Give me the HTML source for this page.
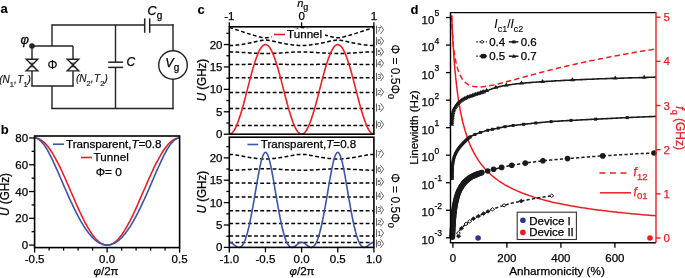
<!DOCTYPE html>
<html><head><meta charset="utf-8"><style>
html,body{margin:0;padding:0;background:#fff;width:685px;height:278px;overflow:hidden}
svg{display:block;will-change:transform}
text{font-family:"Liberation Sans",sans-serif}
</style></head><body>
<svg width="685" height="278" viewBox="0 0 685 278">
<rect width="685" height="278" fill="#fff"/>
<text x="0.40" y="13.30" font-size="13" text-anchor="start" fill="#000" font-weight="bold" stroke="#000" stroke-width="0.1" >a</text>
<line x1="52.00" y1="25.00" x2="144.70" y2="25.00" stroke="#222" stroke-width="1.4" />
<line x1="149.70" y1="25.00" x2="173.70" y2="25.00" stroke="#222" stroke-width="1.4" />
<line x1="52.00" y1="24.30" x2="52.00" y2="46.00" stroke="#222" stroke-width="1.4" />
<line x1="32.00" y1="46.00" x2="73.00" y2="46.00" stroke="#222" stroke-width="1.4" />
<line x1="32.00" y1="46.00" x2="32.00" y2="59.20" stroke="#222" stroke-width="1.4" />
<line x1="32.00" y1="70.90" x2="32.00" y2="86.00" stroke="#222" stroke-width="1.4" />
<line x1="73.00" y1="46.00" x2="73.00" y2="59.20" stroke="#222" stroke-width="1.4" />
<line x1="73.00" y1="70.90" x2="73.00" y2="86.00" stroke="#222" stroke-width="1.4" />
<line x1="31.30" y1="86.00" x2="73.70" y2="86.00" stroke="#222" stroke-width="1.4" />
<line x1="52.00" y1="86.00" x2="52.00" y2="108.50" stroke="#222" stroke-width="1.4" />
<line x1="51.30" y1="108.50" x2="173.70" y2="108.50" stroke="#222" stroke-width="1.4" />
<line x1="115.50" y1="25.00" x2="115.50" y2="62.20" stroke="#222" stroke-width="1.4" />
<line x1="115.50" y1="67.40" x2="115.50" y2="108.50" stroke="#222" stroke-width="1.4" />
<line x1="173.00" y1="24.30" x2="173.00" y2="50.70" stroke="#222" stroke-width="1.4" />
<line x1="173.00" y1="79.30" x2="173.00" y2="109.20" stroke="#222" stroke-width="1.4" />
<line x1="108.20" y1="62.20" x2="123.10" y2="62.20" stroke="#222" stroke-width="1.5" />
<line x1="108.20" y1="67.40" x2="123.10" y2="67.40" stroke="#222" stroke-width="1.5" />
<line x1="144.70" y1="18.40" x2="144.70" y2="32.80" stroke="#222" stroke-width="1.5" />
<line x1="149.70" y1="18.40" x2="149.70" y2="32.80" stroke="#222" stroke-width="1.5" />
<circle cx="173" cy="65" r="14.3" fill="none" stroke="#222" stroke-width="1.4"/>
<path d="M26.2,59.2 L37.8,59.2 L32.0,65 Z M26.2,70.9 L37.8,70.9 L32.0,65 Z" fill="none" stroke="#222" stroke-width="1.4" stroke-linejoin="miter"/>
<line x1="29.70" y1="63.20" x2="34.30" y2="63.20" stroke="#222" stroke-width="1" />
<line x1="29.70" y1="66.80" x2="34.30" y2="66.80" stroke="#222" stroke-width="1" />
<path d="M67.2,59.2 L78.8,59.2 L73.0,65 Z M67.2,70.9 L78.8,70.9 L73.0,65 Z" fill="none" stroke="#222" stroke-width="1.4" stroke-linejoin="miter"/>
<line x1="70.70" y1="63.20" x2="75.30" y2="63.20" stroke="#222" stroke-width="1" />
<line x1="70.70" y1="66.80" x2="75.30" y2="66.80" stroke="#222" stroke-width="1" />
<circle cx="32" cy="46" r="2.8" fill="#222"/>
<text x="20.40" y="44.30" font-size="13" text-anchor="start" fill="#000" font-style="italic" stroke="#000" stroke-width="0.3" >φ</text>
<text x="52.60" y="69.20" font-size="12.5" text-anchor="middle" fill="#000" stroke="#000" stroke-width="0.1" >Φ</text>
<text x="-0.8" y="82.7" font-size="10" font-style="italic" fill="#111" stroke="#111" stroke-width="0.15">(N<tspan font-size="7.5" font-style="normal" dy="4.2">1</tspan><tspan dy="-4.2">,</tspan><tspan dx="0.6">T</tspan><tspan font-size="7.5" font-style="normal" dy="4.2">1</tspan><tspan dy="-4.2">)</tspan></text>
<text x="76.0" y="81.7" font-size="10" font-style="italic" fill="#111" stroke="#111" stroke-width="0.15">(N<tspan font-size="7.5" font-style="normal" dy="4.2">2</tspan><tspan dy="-4.2">,</tspan><tspan dx="0.6">T</tspan><tspan font-size="7.5" font-style="normal" dy="4.2">2</tspan><tspan dy="-4.2">)</tspan></text>
<text x="126.60" y="65.50" font-size="12" text-anchor="start" fill="#000" font-style="italic" stroke="#000" stroke-width="0.25" >C</text>
<text x="147.6" y="15.3" font-size="12.5" font-style="italic" fill="#000" stroke="#000" stroke-width="0.25">C<tspan font-size="10" font-style="normal" dy="4">g</tspan></text>
<text x="165.3" y="67" font-size="12.5" font-style="italic" fill="#000" stroke="#000" stroke-width="0.25">V<tspan font-size="10" font-style="normal" dy="4">g</tspan></text>
<text x="0.80" y="134.00" font-size="13" text-anchor="start" fill="#000" font-weight="bold" stroke="#000" stroke-width="0.1" >b</text>
<path d="M34.6,138.0 35.5,138.0 36.4,138.1 37.3,138.4 38.2,138.6 39.1,139.0 40.0,139.5 40.9,140.0 41.8,140.6 42.8,141.3 43.7,142.1 44.6,142.9 45.5,143.8 46.4,144.8 47.3,145.9 48.2,147.0 49.1,148.2 50.0,149.5 50.9,150.8 51.8,152.2 52.7,153.7 53.6,155.2 54.5,156.8 55.4,158.4 56.3,160.1 57.3,161.8 58.2,163.6 59.1,165.4 60.0,167.2 60.9,169.1 61.8,171.0 62.7,173.0 63.6,175.0 64.5,177.0 65.4,179.0 66.3,181.1 67.2,183.2 68.1,185.2 69.0,187.3 69.9,189.4 70.8,191.5 71.8,193.6 72.7,195.7 73.6,197.8 74.5,199.9 75.4,202.0 76.3,204.0 77.2,206.1 78.1,208.1 79.0,210.1 79.9,212.0 80.8,214.0 81.7,215.9 82.6,217.7 83.5,219.5 84.4,221.3 85.3,223.0 86.3,224.7 87.2,226.3 88.1,227.9 89.0,229.4 89.9,230.9 90.8,232.3 91.7,233.6 92.6,234.9 93.5,236.1 94.4,237.2 95.3,238.3 96.2,239.3 97.1,240.2 98.0,241.0 98.9,241.8 99.8,242.5 100.8,243.1 101.7,243.6 102.6,244.1 103.5,244.4 104.4,244.7 105.3,244.9 106.2,245.1 107.1,245.1 108.0,245.1 108.9,244.9 109.8,244.7 110.7,244.4 111.6,244.1 112.5,243.6 113.4,243.1 114.3,242.5 115.3,241.8 116.2,241.0 117.1,240.2 118.0,239.3 118.9,238.3 119.8,237.2 120.7,236.1 121.6,234.9 122.5,233.6 123.4,232.3 124.3,230.9 125.2,229.4 126.1,227.9 127.0,226.3 127.9,224.7 128.8,223.0 129.8,221.3 130.7,219.5 131.6,217.7 132.5,215.9 133.4,214.0 134.3,212.0 135.2,210.1 136.1,208.1 137.0,206.1 137.9,204.0 138.8,202.0 139.7,199.9 140.6,197.8 141.5,195.7 142.4,193.6 143.3,191.5 144.3,189.4 145.2,187.3 146.1,185.2 147.0,183.2 147.9,181.1 148.8,179.0 149.7,177.0 150.6,175.0 151.5,173.0 152.4,171.0 153.3,169.1 154.2,167.2 155.1,165.4 156.0,163.6 156.9,161.8 157.9,160.1 158.8,158.4 159.7,156.8 160.6,155.2 161.5,153.7 162.4,152.2 163.3,150.8 164.2,149.5 165.1,148.2 166.0,147.0 166.9,145.9 167.8,144.8 168.7,143.8 169.6,142.9 170.5,142.1 171.4,141.3 172.4,140.6 173.3,140.0 174.2,139.5 175.1,139.0 176.0,138.6 176.9,138.4 177.8,138.1 178.7,138.0 179.6,138.0" fill="none" stroke="#ec1c24" stroke-width="1.6" />
<path d="M34.6,138.0 35.5,138.0 36.4,138.2 37.3,138.6 38.2,139.0 39.1,139.6 40.0,140.3 40.9,141.2 41.8,142.1 42.8,143.2 43.7,144.3 44.6,145.6 45.5,147.0 46.4,148.4 47.3,149.9 48.2,151.5 49.1,153.2 50.0,154.9 50.9,156.7 51.8,158.6 52.7,160.4 53.6,162.4 54.5,164.3 55.4,166.3 56.3,168.4 57.3,170.4 58.2,172.5 59.1,174.6 60.0,176.7 60.9,178.8 61.8,180.9 62.7,183.0 63.6,185.1 64.5,187.2 65.4,189.2 66.3,191.3 67.2,193.4 68.1,195.4 69.0,197.4 69.9,199.4 70.8,201.4 71.8,203.4 72.7,205.3 73.6,207.2 74.5,209.1 75.4,210.9 76.3,212.7 77.2,214.4 78.1,216.2 79.0,217.8 79.9,219.5 80.8,221.1 81.7,222.6 82.6,224.1 83.5,225.6 84.4,227.0 85.3,228.4 86.3,229.7 87.2,231.0 88.1,232.2 89.0,233.4 89.9,234.5 90.8,235.6 91.7,236.6 92.6,237.6 93.5,238.5 94.4,239.3 95.3,240.1 96.2,240.8 97.1,241.5 98.0,242.1 98.9,242.7 99.8,243.2 100.8,243.6 101.7,244.0 102.6,244.4 103.5,244.6 104.4,244.8 105.3,245.0 106.2,245.1 107.1,245.1 108.0,245.1 108.9,245.0 109.8,244.8 110.7,244.6 111.6,244.4 112.5,244.0 113.4,243.6 114.3,243.2 115.3,242.7 116.2,242.1 117.1,241.5 118.0,240.8 118.9,240.1 119.8,239.3 120.7,238.5 121.6,237.6 122.5,236.6 123.4,235.6 124.3,234.5 125.2,233.4 126.1,232.2 127.0,231.0 127.9,229.7 128.8,228.4 129.8,227.0 130.7,225.6 131.6,224.1 132.5,222.6 133.4,221.1 134.3,219.5 135.2,217.8 136.1,216.2 137.0,214.4 137.9,212.7 138.8,210.9 139.7,209.1 140.6,207.2 141.5,205.3 142.4,203.4 143.3,201.4 144.3,199.4 145.2,197.4 146.1,195.4 147.0,193.4 147.9,191.3 148.8,189.2 149.7,187.2 150.6,185.1 151.5,183.0 152.4,180.9 153.3,178.8 154.2,176.7 155.1,174.6 156.0,172.5 156.9,170.4 157.9,168.4 158.8,166.3 159.7,164.3 160.6,162.4 161.5,160.4 162.4,158.6 163.3,156.7 164.2,154.9 165.1,153.2 166.0,151.5 166.9,149.9 167.8,148.4 168.7,147.0 169.6,145.6 170.5,144.3 171.4,143.2 172.4,142.1 173.3,141.2 174.2,140.3 175.1,139.6 176.0,139.0 176.9,138.6 177.8,138.2 178.7,138.0 179.6,138.0" fill="none" stroke="#3b55a5" stroke-width="1.6" />
<rect x="34.60" y="136.00" width="145.00" height="111.60" fill="none" stroke="#000" stroke-width="1.6"/>
<line x1="29.10" y1="245.10" x2="34.60" y2="245.10" stroke="#000" stroke-width="1.3" />
<text x="28.10" y="249.10" font-size="11.5" text-anchor="end" fill="#000" stroke="#000" stroke-width="0.25" >0</text>
<line x1="31.60" y1="231.71" x2="34.60" y2="231.71" stroke="#000" stroke-width="1.3" />
<line x1="29.10" y1="218.32" x2="34.60" y2="218.32" stroke="#000" stroke-width="1.3" />
<text x="28.10" y="222.32" font-size="11.5" text-anchor="end" fill="#000" stroke="#000" stroke-width="0.25" >20</text>
<line x1="31.60" y1="204.93" x2="34.60" y2="204.93" stroke="#000" stroke-width="1.3" />
<line x1="29.10" y1="191.54" x2="34.60" y2="191.54" stroke="#000" stroke-width="1.3" />
<text x="28.10" y="195.54" font-size="11.5" text-anchor="end" fill="#000" stroke="#000" stroke-width="0.25" >40</text>
<line x1="31.60" y1="178.15" x2="34.60" y2="178.15" stroke="#000" stroke-width="1.3" />
<line x1="29.10" y1="164.76" x2="34.60" y2="164.76" stroke="#000" stroke-width="1.3" />
<text x="28.10" y="168.76" font-size="11.5" text-anchor="end" fill="#000" stroke="#000" stroke-width="0.25" >60</text>
<line x1="31.60" y1="151.37" x2="34.60" y2="151.37" stroke="#000" stroke-width="1.3" />
<line x1="29.10" y1="137.98" x2="34.60" y2="137.98" stroke="#000" stroke-width="1.3" />
<text x="28.10" y="141.98" font-size="11.5" text-anchor="end" fill="#000" stroke="#000" stroke-width="0.25" >80</text>
<line x1="34.60" y1="247.60" x2="34.60" y2="252.60" stroke="#000" stroke-width="1.3" />
<line x1="49.10" y1="247.60" x2="49.10" y2="250.60" stroke="#000" stroke-width="1.3" />
<line x1="63.60" y1="247.60" x2="63.60" y2="250.60" stroke="#000" stroke-width="1.3" />
<line x1="78.10" y1="247.60" x2="78.10" y2="250.60" stroke="#000" stroke-width="1.3" />
<line x1="92.60" y1="247.60" x2="92.60" y2="250.60" stroke="#000" stroke-width="1.3" />
<line x1="107.10" y1="247.60" x2="107.10" y2="252.60" stroke="#000" stroke-width="1.3" />
<line x1="121.60" y1="247.60" x2="121.60" y2="250.60" stroke="#000" stroke-width="1.3" />
<line x1="136.10" y1="247.60" x2="136.10" y2="250.60" stroke="#000" stroke-width="1.3" />
<line x1="150.60" y1="247.60" x2="150.60" y2="250.60" stroke="#000" stroke-width="1.3" />
<line x1="165.10" y1="247.60" x2="165.10" y2="250.60" stroke="#000" stroke-width="1.3" />
<line x1="179.60" y1="247.60" x2="179.60" y2="252.60" stroke="#000" stroke-width="1.3" />
<text x="34.60" y="262.80" font-size="11.5" text-anchor="middle" fill="#000" stroke="#000" stroke-width="0.25" >-0.5</text>
<text x="107.10" y="262.80" font-size="11.5" text-anchor="middle" fill="#000" stroke="#000" stroke-width="0.25" >0.0</text>
<text x="179.60" y="262.80" font-size="11.5" text-anchor="middle" fill="#000" stroke="#000" stroke-width="0.25" >0.5</text>
<text x="106" y="274.5" font-size="11.5" text-anchor="middle" fill="#000" stroke="#000" stroke-width="0.25"><tspan font-style="italic">φ</tspan>/2π</text>
<text transform="translate(8.6,194.5) rotate(-90)" font-size="12" text-anchor="middle" fill="#000" stroke="#000" stroke-width="0.25" textLength="43" lengthAdjust="spacingAndGlyphs"><tspan font-style="italic">U</tspan> (GHz)</text>
<line x1="53.00" y1="144.20" x2="64.00" y2="144.20" stroke="#3b55a5" stroke-width="1.6" />
<text x="66" y="147.6" font-size="11.5" fill="#000" stroke="#000" stroke-width="0.25" textLength="95.5" lengthAdjust="spacingAndGlyphs">Transparent,<tspan font-style="italic">T</tspan>=0.8</text>
<line x1="81.00" y1="157.50" x2="92.00" y2="157.50" stroke="#ec1c24" stroke-width="1.6" />
<text x="93.60" y="161.00" font-size="11.5" text-anchor="start" fill="#000" textLength="35.20" lengthAdjust="spacingAndGlyphs" stroke="#000" stroke-width="0.25" >Tunnel</text>
<text x="95.70" y="175.90" font-size="11.5" text-anchor="start" fill="#000" textLength="26.00" lengthAdjust="spacingAndGlyphs" stroke="#000" stroke-width="0.25" >Φ= 0</text>
<text x="197.60" y="13.70" font-size="13" text-anchor="start" fill="#000" font-weight="bold" stroke="#000" stroke-width="0.1" >c</text>
<path d="M229.3,125.5 230.2,125.5 231.1,125.5 232.0,125.5 232.9,125.5 233.8,125.5 234.7,125.5 235.6,125.5 236.5,125.5 237.4,125.5 238.3,125.5 239.2,125.5 240.1,125.5 241.0,125.5 242.0,125.5 242.9,125.5 243.8,125.5 244.7,125.5 245.6,125.5 246.5,125.5 247.4,125.5 248.3,125.5 249.2,125.5 250.1,125.5 251.0,125.5 251.9,125.5 252.8,125.5 253.7,125.5 254.6,125.5 255.5,125.5 256.4,125.5 257.3,125.5 258.2,125.5 259.1,125.5 260.0,125.5 260.9,125.5 261.8,125.5 262.7,125.5 263.6,125.5 264.5,125.5 265.5,125.5 266.4,125.5 267.3,125.5 268.2,125.5 269.1,125.5 270.0,125.5 270.9,125.5 271.8,125.5 272.7,125.5 273.6,125.5 274.5,125.5 275.4,125.5 276.3,125.5 277.2,125.5 278.1,125.5 279.0,125.5 279.9,125.5 280.8,125.5 281.7,125.5 282.6,125.5 283.5,125.5 284.4,125.5 285.3,125.5 286.2,125.5 287.1,125.5 288.0,125.5 288.9,125.5 289.9,125.5 290.8,125.5 291.7,125.5 292.6,125.5 293.5,125.5 294.4,125.5 295.3,125.5 296.2,125.5 297.1,125.5 298.0,125.5 298.9,125.5 299.8,125.5 300.7,125.5 301.6,125.5 302.5,125.5 303.4,125.5 304.3,125.5 305.2,125.5 306.1,125.5 307.0,125.5 307.9,125.5 308.8,125.5 309.7,125.5 310.6,125.5 311.5,125.5 312.4,125.5 313.3,125.5 314.3,125.5 315.2,125.5 316.1,125.5 317.0,125.5 317.9,125.5 318.8,125.5 319.7,125.5 320.6,125.5 321.5,125.5 322.4,125.5 323.3,125.5 324.2,125.5 325.1,125.5 326.0,125.5 326.9,125.5 327.8,125.5 328.7,125.5 329.6,125.5 330.5,125.5 331.4,125.5 332.3,125.5 333.2,125.5 334.1,125.5 335.0,125.5 335.9,125.5 336.8,125.5 337.8,125.5 338.7,125.5 339.6,125.5 340.5,125.5 341.4,125.5 342.3,125.5 343.2,125.5 344.1,125.5 345.0,125.5 345.9,125.5 346.8,125.5 347.7,125.5 348.6,125.5 349.5,125.5 350.4,125.5 351.3,125.5 352.2,125.5 353.1,125.5 354.0,125.5 354.9,125.5 355.8,125.5 356.7,125.5 357.6,125.5 358.5,125.5 359.4,125.5 360.3,125.5 361.2,125.5 362.2,125.5 363.1,125.5 364.0,125.5 364.9,125.5 365.8,125.5 366.7,125.5 367.6,125.5 368.5,125.5 369.4,125.5 370.3,125.5 371.2,125.5 372.1,125.5 373.0,125.5 373.9,125.5" fill="none" stroke="#000" stroke-width="1.5" stroke-dasharray="3.8,2.4" />
<path d="M229.3,108.5 230.2,108.5 231.1,108.5 232.0,108.5 232.9,108.5 233.8,108.5 234.7,108.5 235.6,108.5 236.5,108.5 237.4,108.5 238.3,108.5 239.2,108.5 240.1,108.5 241.0,108.5 242.0,108.5 242.9,108.5 243.8,108.5 244.7,108.5 245.6,108.5 246.5,108.5 247.4,108.5 248.3,108.5 249.2,108.5 250.1,108.5 251.0,108.5 251.9,108.5 252.8,108.5 253.7,108.5 254.6,108.5 255.5,108.5 256.4,108.5 257.3,108.5 258.2,108.5 259.1,108.5 260.0,108.5 260.9,108.5 261.8,108.5 262.7,108.5 263.6,108.5 264.5,108.5 265.5,108.5 266.4,108.5 267.3,108.5 268.2,108.5 269.1,108.5 270.0,108.5 270.9,108.5 271.8,108.5 272.7,108.5 273.6,108.5 274.5,108.5 275.4,108.5 276.3,108.5 277.2,108.5 278.1,108.5 279.0,108.5 279.9,108.5 280.8,108.5 281.7,108.5 282.6,108.5 283.5,108.5 284.4,108.5 285.3,108.5 286.2,108.5 287.1,108.5 288.0,108.5 288.9,108.5 289.9,108.5 290.8,108.5 291.7,108.5 292.6,108.5 293.5,108.5 294.4,108.5 295.3,108.5 296.2,108.5 297.1,108.5 298.0,108.5 298.9,108.5 299.8,108.5 300.7,108.5 301.6,108.5 302.5,108.5 303.4,108.5 304.3,108.5 305.2,108.5 306.1,108.5 307.0,108.5 307.9,108.5 308.8,108.5 309.7,108.5 310.6,108.5 311.5,108.5 312.4,108.5 313.3,108.5 314.3,108.5 315.2,108.5 316.1,108.5 317.0,108.5 317.9,108.5 318.8,108.5 319.7,108.5 320.6,108.5 321.5,108.5 322.4,108.5 323.3,108.5 324.2,108.5 325.1,108.5 326.0,108.5 326.9,108.5 327.8,108.5 328.7,108.5 329.6,108.5 330.5,108.5 331.4,108.5 332.3,108.5 333.2,108.5 334.1,108.5 335.0,108.5 335.9,108.5 336.8,108.5 337.8,108.5 338.7,108.5 339.6,108.5 340.5,108.5 341.4,108.5 342.3,108.5 343.2,108.5 344.1,108.5 345.0,108.5 345.9,108.5 346.8,108.5 347.7,108.5 348.6,108.5 349.5,108.5 350.4,108.5 351.3,108.5 352.2,108.5 353.1,108.5 354.0,108.5 354.9,108.5 355.8,108.5 356.7,108.5 357.6,108.5 358.5,108.5 359.4,108.5 360.3,108.5 361.2,108.5 362.2,108.5 363.1,108.5 364.0,108.5 364.9,108.5 365.8,108.5 366.7,108.5 367.6,108.5 368.5,108.5 369.4,108.5 370.3,108.5 371.2,108.5 372.1,108.5 373.0,108.5 373.9,108.5" fill="none" stroke="#000" stroke-width="1.5" stroke-dasharray="3.8,2.4" />
<path d="M229.3,92.5 230.2,92.5 231.1,92.5 232.0,92.5 232.9,92.5 233.8,92.5 234.7,92.5 235.6,92.5 236.5,92.5 237.4,92.5 238.3,92.5 239.2,92.5 240.1,92.5 241.0,92.5 242.0,92.5 242.9,92.5 243.8,92.5 244.7,92.5 245.6,92.5 246.5,92.5 247.4,92.5 248.3,92.5 249.2,92.5 250.1,92.5 251.0,92.5 251.9,92.5 252.8,92.5 253.7,92.5 254.6,92.5 255.5,92.5 256.4,92.5 257.3,92.5 258.2,92.5 259.1,92.5 260.0,92.5 260.9,92.5 261.8,92.5 262.7,92.5 263.6,92.5 264.5,92.5 265.5,92.5 266.4,92.5 267.3,92.5 268.2,92.5 269.1,92.5 270.0,92.5 270.9,92.5 271.8,92.5 272.7,92.5 273.6,92.5 274.5,92.5 275.4,92.5 276.3,92.5 277.2,92.5 278.1,92.5 279.0,92.5 279.9,92.5 280.8,92.5 281.7,92.5 282.6,92.5 283.5,92.5 284.4,92.5 285.3,92.5 286.2,92.5 287.1,92.5 288.0,92.5 288.9,92.5 289.9,92.5 290.8,92.5 291.7,92.5 292.6,92.5 293.5,92.5 294.4,92.5 295.3,92.5 296.2,92.5 297.1,92.5 298.0,92.5 298.9,92.5 299.8,92.5 300.7,92.5 301.6,92.5 302.5,92.5 303.4,92.5 304.3,92.5 305.2,92.5 306.1,92.5 307.0,92.5 307.9,92.5 308.8,92.5 309.7,92.5 310.6,92.5 311.5,92.5 312.4,92.5 313.3,92.5 314.3,92.5 315.2,92.5 316.1,92.5 317.0,92.5 317.9,92.5 318.8,92.5 319.7,92.5 320.6,92.5 321.5,92.5 322.4,92.5 323.3,92.5 324.2,92.5 325.1,92.5 326.0,92.5 326.9,92.5 327.8,92.5 328.7,92.5 329.6,92.5 330.5,92.5 331.4,92.5 332.3,92.5 333.2,92.5 334.1,92.5 335.0,92.5 335.9,92.5 336.8,92.5 337.8,92.5 338.7,92.5 339.6,92.5 340.5,92.5 341.4,92.5 342.3,92.5 343.2,92.5 344.1,92.5 345.0,92.5 345.9,92.5 346.8,92.5 347.7,92.5 348.6,92.5 349.5,92.5 350.4,92.5 351.3,92.5 352.2,92.5 353.1,92.5 354.0,92.5 354.9,92.5 355.8,92.5 356.7,92.5 357.6,92.5 358.5,92.5 359.4,92.5 360.3,92.5 361.2,92.5 362.2,92.5 363.1,92.5 364.0,92.5 364.9,92.5 365.8,92.5 366.7,92.5 367.6,92.5 368.5,92.5 369.4,92.5 370.3,92.5 371.2,92.5 372.1,92.5 373.0,92.5 373.9,92.5" fill="none" stroke="#000" stroke-width="1.5" stroke-dasharray="3.8,2.4" />
<path d="M229.3,77.7 230.2,77.7 231.1,77.7 232.0,77.7 232.9,77.7 233.8,77.7 234.7,77.7 235.6,77.7 236.5,77.7 237.4,77.7 238.3,77.7 239.2,77.7 240.1,77.7 241.0,77.7 242.0,77.7 242.9,77.7 243.8,77.7 244.7,77.7 245.6,77.7 246.5,77.7 247.4,77.7 248.3,77.7 249.2,77.7 250.1,77.7 251.0,77.7 251.9,77.7 252.8,77.7 253.7,77.7 254.6,77.7 255.5,77.7 256.4,77.7 257.3,77.7 258.2,77.7 259.1,77.7 260.0,77.7 260.9,77.7 261.8,77.7 262.7,77.7 263.6,77.7 264.5,77.7 265.5,77.7 266.4,77.7 267.3,77.7 268.2,77.7 269.1,77.7 270.0,77.7 270.9,77.7 271.8,77.7 272.7,77.7 273.6,77.7 274.5,77.7 275.4,77.7 276.3,77.7 277.2,77.7 278.1,77.7 279.0,77.7 279.9,77.7 280.8,77.7 281.7,77.7 282.6,77.7 283.5,77.7 284.4,77.7 285.3,77.7 286.2,77.7 287.1,77.7 288.0,77.7 288.9,77.7 289.9,77.7 290.8,77.7 291.7,77.7 292.6,77.7 293.5,77.7 294.4,77.7 295.3,77.7 296.2,77.7 297.1,77.7 298.0,77.7 298.9,77.7 299.8,77.7 300.7,77.7 301.6,77.7 302.5,77.7 303.4,77.7 304.3,77.7 305.2,77.7 306.1,77.7 307.0,77.7 307.9,77.7 308.8,77.7 309.7,77.7 310.6,77.7 311.5,77.7 312.4,77.7 313.3,77.7 314.3,77.7 315.2,77.7 316.1,77.7 317.0,77.7 317.9,77.7 318.8,77.7 319.7,77.7 320.6,77.7 321.5,77.7 322.4,77.7 323.3,77.7 324.2,77.7 325.1,77.7 326.0,77.7 326.9,77.7 327.8,77.7 328.7,77.7 329.6,77.7 330.5,77.7 331.4,77.7 332.3,77.7 333.2,77.7 334.1,77.7 335.0,77.7 335.9,77.7 336.8,77.7 337.8,77.7 338.7,77.7 339.6,77.7 340.5,77.7 341.4,77.7 342.3,77.7 343.2,77.7 344.1,77.7 345.0,77.7 345.9,77.7 346.8,77.7 347.7,77.7 348.6,77.7 349.5,77.7 350.4,77.7 351.3,77.7 352.2,77.7 353.1,77.7 354.0,77.7 354.9,77.7 355.8,77.7 356.7,77.7 357.6,77.7 358.5,77.7 359.4,77.7 360.3,77.7 361.2,77.7 362.2,77.7 363.1,77.7 364.0,77.7 364.9,77.7 365.8,77.7 366.7,77.7 367.6,77.7 368.5,77.7 369.4,77.7 370.3,77.7 371.2,77.7 372.1,77.7 373.0,77.7 373.9,77.7" fill="none" stroke="#000" stroke-width="1.5" stroke-dasharray="3.8,2.4" />
<path d="M229.3,64.4 230.2,64.4 231.1,64.4 232.0,64.4 232.9,64.4 233.8,64.4 234.7,64.4 235.6,64.4 236.5,64.4 237.4,64.4 238.3,64.4 239.2,64.4 240.1,64.4 241.0,64.4 242.0,64.4 242.9,64.4 243.8,64.4 244.7,64.4 245.6,64.3 246.5,64.3 247.4,64.3 248.3,64.3 249.2,64.3 250.1,64.3 251.0,64.3 251.9,64.3 252.8,64.3 253.7,64.3 254.6,64.3 255.5,64.3 256.4,64.2 257.3,64.2 258.2,64.2 259.1,64.2 260.0,64.2 260.9,64.2 261.8,64.2 262.7,64.2 263.6,64.2 264.5,64.2 265.5,64.2 266.4,64.2 267.3,64.2 268.2,64.2 269.1,64.2 270.0,64.2 270.9,64.2 271.8,64.2 272.7,64.2 273.6,64.2 274.5,64.2 275.4,64.3 276.3,64.3 277.2,64.3 278.1,64.3 279.0,64.3 279.9,64.3 280.8,64.3 281.7,64.3 282.6,64.3 283.5,64.3 284.4,64.3 285.3,64.3 286.2,64.4 287.1,64.4 288.0,64.4 288.9,64.4 289.9,64.4 290.8,64.4 291.7,64.4 292.6,64.4 293.5,64.4 294.4,64.4 295.3,64.4 296.2,64.4 297.1,64.4 298.0,64.4 298.9,64.4 299.8,64.4 300.7,64.4 301.6,64.4 302.5,64.4 303.4,64.4 304.3,64.4 305.2,64.4 306.1,64.4 307.0,64.4 307.9,64.4 308.8,64.4 309.7,64.4 310.6,64.4 311.5,64.4 312.4,64.4 313.3,64.4 314.3,64.4 315.2,64.4 316.1,64.4 317.0,64.4 317.9,64.3 318.8,64.3 319.7,64.3 320.6,64.3 321.5,64.3 322.4,64.3 323.3,64.3 324.2,64.3 325.1,64.3 326.0,64.3 326.9,64.3 327.8,64.3 328.7,64.2 329.6,64.2 330.5,64.2 331.4,64.2 332.3,64.2 333.2,64.2 334.1,64.2 335.0,64.2 335.9,64.2 336.8,64.2 337.8,64.2 338.7,64.2 339.6,64.2 340.5,64.2 341.4,64.2 342.3,64.2 343.2,64.2 344.1,64.2 345.0,64.2 345.9,64.2 346.8,64.2 347.7,64.3 348.6,64.3 349.5,64.3 350.4,64.3 351.3,64.3 352.2,64.3 353.1,64.3 354.0,64.3 354.9,64.3 355.8,64.3 356.7,64.3 357.6,64.3 358.5,64.4 359.4,64.4 360.3,64.4 361.2,64.4 362.2,64.4 363.1,64.4 364.0,64.4 364.9,64.4 365.8,64.4 366.7,64.4 367.6,64.4 368.5,64.4 369.4,64.4 370.3,64.4 371.2,64.4 372.1,64.4 373.0,64.4 373.9,64.4" fill="none" stroke="#000" stroke-width="1.5" stroke-dasharray="3.8,2.4" />
<path d="M229.3,51.9 230.2,51.9 231.1,51.9 232.0,51.9 232.9,51.9 233.8,52.0 234.7,52.0 235.6,52.0 236.5,52.1 237.4,52.1 238.3,52.2 239.2,52.2 240.1,52.3 241.0,52.3 242.0,52.4 242.9,52.5 243.8,52.5 244.7,52.6 245.6,52.7 246.5,52.7 247.4,52.8 248.3,52.8 249.2,52.9 250.1,52.9 251.0,53.0 251.9,53.1 252.8,53.1 253.7,53.1 254.6,53.2 255.5,53.2 256.4,53.3 257.3,53.3 258.2,53.3 259.1,53.4 260.0,53.4 260.9,53.4 261.8,53.4 262.7,53.4 263.6,53.5 264.5,53.5 265.5,53.5 266.4,53.5 267.3,53.5 268.2,53.4 269.1,53.4 270.0,53.4 270.9,53.4 271.8,53.4 272.7,53.3 273.6,53.3 274.5,53.3 275.4,53.2 276.3,53.2 277.2,53.1 278.1,53.1 279.0,53.1 279.9,53.0 280.8,52.9 281.7,52.9 282.6,52.8 283.5,52.8 284.4,52.7 285.3,52.7 286.2,52.6 287.1,52.5 288.0,52.5 288.9,52.4 289.9,52.3 290.8,52.3 291.7,52.2 292.6,52.2 293.5,52.1 294.4,52.1 295.3,52.0 296.2,52.0 297.1,52.0 298.0,51.9 298.9,51.9 299.8,51.9 300.7,51.9 301.6,51.9 302.5,51.9 303.4,51.9 304.3,51.9 305.2,51.9 306.1,52.0 307.0,52.0 307.9,52.0 308.8,52.1 309.7,52.1 310.6,52.2 311.5,52.2 312.4,52.3 313.3,52.3 314.3,52.4 315.2,52.5 316.1,52.5 317.0,52.6 317.9,52.7 318.8,52.7 319.7,52.8 320.6,52.8 321.5,52.9 322.4,52.9 323.3,53.0 324.2,53.1 325.1,53.1 326.0,53.1 326.9,53.2 327.8,53.2 328.7,53.3 329.6,53.3 330.5,53.3 331.4,53.4 332.3,53.4 333.2,53.4 334.1,53.4 335.0,53.4 335.9,53.5 336.8,53.5 337.8,53.5 338.7,53.5 339.6,53.5 340.5,53.4 341.4,53.4 342.3,53.4 343.2,53.4 344.1,53.4 345.0,53.3 345.9,53.3 346.8,53.3 347.7,53.2 348.6,53.2 349.5,53.1 350.4,53.1 351.3,53.1 352.2,53.0 353.1,52.9 354.0,52.9 354.9,52.8 355.8,52.8 356.7,52.7 357.6,52.7 358.5,52.6 359.4,52.5 360.3,52.5 361.2,52.4 362.2,52.3 363.1,52.3 364.0,52.2 364.9,52.2 365.8,52.1 366.7,52.1 367.6,52.0 368.5,52.0 369.4,52.0 370.3,51.9 371.2,51.9 372.1,51.9 373.0,51.9 373.9,51.9" fill="none" stroke="#000" stroke-width="1.5" stroke-dasharray="3.8,2.4" />
<path d="M229.3,45.5 230.2,45.5 231.1,45.4 232.0,45.4 232.9,45.4 233.8,45.3 234.7,45.2 235.6,45.2 236.5,45.1 237.4,45.0 238.3,44.9 239.2,44.8 240.1,44.6 241.0,44.5 242.0,44.4 242.9,44.2 243.8,44.1 244.7,43.9 245.6,43.8 246.5,43.6 247.4,43.4 248.3,43.3 249.2,43.1 250.1,42.9 251.0,42.7 251.9,42.5 252.8,42.3 253.7,42.1 254.6,41.9 255.5,41.7 256.4,41.5 257.3,41.3 258.2,41.1 259.1,40.9 260.0,40.8 260.9,40.6 261.8,40.4 262.7,40.3 263.6,40.2 264.5,40.1 265.5,40.1 266.4,40.1 267.3,40.2 268.2,40.3 269.1,40.4 270.0,40.6 270.9,40.8 271.8,40.9 272.7,41.1 273.6,41.3 274.5,41.5 275.4,41.7 276.3,41.9 277.2,42.1 278.1,42.3 279.0,42.5 279.9,42.7 280.8,42.9 281.7,43.1 282.6,43.3 283.5,43.4 284.4,43.6 285.3,43.8 286.2,43.9 287.1,44.1 288.0,44.2 288.9,44.4 289.9,44.5 290.8,44.6 291.7,44.8 292.6,44.9 293.5,45.0 294.4,45.1 295.3,45.2 296.2,45.2 297.1,45.3 298.0,45.4 298.9,45.4 299.8,45.4 300.7,45.5 301.6,45.5 302.5,45.5 303.4,45.4 304.3,45.4 305.2,45.4 306.1,45.3 307.0,45.2 307.9,45.2 308.8,45.1 309.7,45.0 310.6,44.9 311.5,44.8 312.4,44.6 313.3,44.5 314.3,44.4 315.2,44.2 316.1,44.1 317.0,43.9 317.9,43.8 318.8,43.6 319.7,43.4 320.6,43.3 321.5,43.1 322.4,42.9 323.3,42.7 324.2,42.5 325.1,42.3 326.0,42.1 326.9,41.9 327.8,41.7 328.7,41.5 329.6,41.3 330.5,41.1 331.4,40.9 332.3,40.8 333.2,40.6 334.1,40.4 335.0,40.3 335.9,40.2 336.8,40.1 337.8,40.1 338.7,40.1 339.6,40.2 340.5,40.3 341.4,40.4 342.3,40.6 343.2,40.8 344.1,40.9 345.0,41.1 345.9,41.3 346.8,41.5 347.7,41.7 348.6,41.9 349.5,42.1 350.4,42.3 351.3,42.5 352.2,42.7 353.1,42.9 354.0,43.1 354.9,43.3 355.8,43.4 356.7,43.6 357.6,43.8 358.5,43.9 359.4,44.1 360.3,44.2 361.2,44.4 362.2,44.5 363.1,44.6 364.0,44.8 364.9,44.9 365.8,45.0 366.7,45.1 367.6,45.2 368.5,45.2 369.4,45.3 370.3,45.4 371.2,45.4 372.1,45.4 373.0,45.5 373.9,45.5" fill="none" stroke="#000" stroke-width="1.5" stroke-dasharray="3.8,2.4" />
<path d="M229.3,27.5 230.2,27.6 231.1,27.9 232.0,28.2 232.9,28.5 233.8,28.9 234.7,29.2 235.6,29.5 236.5,29.8 237.4,30.1 238.3,30.4 239.2,30.7 240.1,31.0 241.0,31.3 242.0,31.6 242.9,31.9 243.8,32.2 244.7,32.5 245.6,32.8 246.5,33.1 247.4,33.4 248.3,33.6 249.2,33.9 250.1,34.2 251.0,34.5 251.9,34.8 252.8,35.0 253.7,35.3 254.6,35.5 255.5,35.8 256.4,36.1 257.3,36.3 258.2,36.5 259.1,36.8 260.0,37.0 260.9,37.2 261.8,37.4 262.7,37.5 263.6,37.7 264.5,37.8 265.5,37.8 266.4,37.8 267.3,37.7 268.2,37.5 269.1,37.4 270.0,37.2 270.9,37.0 271.8,36.8 272.7,36.5 273.6,36.3 274.5,36.1 275.4,35.8 276.3,35.5 277.2,35.3 278.1,35.0 279.0,34.8 279.9,34.5 280.8,34.2 281.7,33.9 282.6,33.6 283.5,33.4 284.4,33.1 285.3,32.8 286.2,32.5 287.1,32.2 288.0,31.9 288.9,31.6 289.9,31.3 290.8,31.0 291.7,30.7 292.6,30.4 293.5,30.1 294.4,29.8 295.3,29.5 296.2,29.2 297.1,28.9 298.0,28.5 298.9,28.2 299.8,27.9 300.7,27.6 301.6,27.5 302.5,27.6 303.4,27.9 304.3,28.2 305.2,28.5 306.1,28.9 307.0,29.2 307.9,29.5 308.8,29.8 309.7,30.1 310.6,30.4 311.5,30.7 312.4,31.0 313.3,31.3 314.3,31.6 315.2,31.9 316.1,32.2 317.0,32.5 317.9,32.8 318.8,33.1 319.7,33.4 320.6,33.6 321.5,33.9 322.4,34.2 323.3,34.5 324.2,34.8 325.1,35.0 326.0,35.3 326.9,35.5 327.8,35.8 328.7,36.1 329.6,36.3 330.5,36.5 331.4,36.8 332.3,37.0 333.2,37.2 334.1,37.4 335.0,37.5 335.9,37.7 336.8,37.8 337.8,37.8 338.7,37.8 339.6,37.7 340.5,37.5 341.4,37.4 342.3,37.2 343.2,37.0 344.1,36.8 345.0,36.5 345.9,36.3 346.8,36.1 347.7,35.8 348.6,35.5 349.5,35.3 350.4,35.0 351.3,34.8 352.2,34.5 353.1,34.2 354.0,33.9 354.9,33.6 355.8,33.4 356.7,33.1 357.6,32.8 358.5,32.5 359.4,32.2 360.3,31.9 361.2,31.6 362.2,31.3 363.1,31.0 364.0,30.7 364.9,30.4 365.8,30.1 366.7,29.8 367.6,29.5 368.5,29.2 369.4,28.9 370.3,28.5 371.2,28.2 372.1,27.9 373.0,27.6 373.9,27.5" fill="none" stroke="#000" stroke-width="1.5" stroke-dasharray="3.8,2.4" />
<path d="M229.3,134.2 229.8,134.2 230.2,134.1 230.7,133.9 231.1,133.6 231.6,133.3 232.0,133.0 232.5,132.5 232.9,132.0 233.4,131.4 233.8,130.8 234.3,130.1 234.7,129.3 235.2,128.5 235.6,127.6 236.1,126.6 236.5,125.6 237.0,124.6 237.4,123.5 237.9,122.3 238.3,121.1 238.8,119.8 239.2,118.5 239.7,117.1 240.1,115.7 240.6,114.3 241.0,112.8 241.5,111.3 242.0,109.7 242.4,108.1 242.9,106.5 243.3,104.9 243.8,103.2 244.2,101.5 244.7,99.8 245.1,98.1 245.6,96.4 246.0,94.6 246.5,92.9 246.9,91.1 247.4,89.4 247.8,87.6 248.3,85.9 248.7,84.1 249.2,82.4 249.6,80.6 250.1,78.9 250.5,77.2 251.0,75.5 251.4,73.9 251.9,72.2 252.3,70.6 252.8,69.0 253.2,67.5 253.7,65.9 254.2,64.5 254.6,63.0 255.1,61.6 255.5,60.3 256.0,58.9 256.4,57.7 256.9,56.5 257.3,55.3 257.8,54.2 258.2,53.1 258.7,52.1 259.1,51.1 259.6,50.3 260.0,49.4 260.5,48.7 260.9,48.0 261.4,47.3 261.8,46.7 262.3,46.2 262.7,45.8 263.2,45.4 263.6,45.1 264.1,44.9 264.5,44.7 265.0,44.6 265.5,44.5 265.9,44.6 266.4,44.7 266.8,44.9 267.3,45.1 267.7,45.4 268.2,45.8 268.6,46.2 269.1,46.7 269.5,47.3 270.0,48.0 270.4,48.7 270.9,49.4 271.3,50.3 271.8,51.1 272.2,52.1 272.7,53.1 273.1,54.2 273.6,55.3 274.0,56.5 274.5,57.7 274.9,58.9 275.4,60.3 275.8,61.6 276.3,63.0 276.7,64.5 277.2,65.9 277.7,67.5 278.1,69.0 278.6,70.6 279.0,72.2 279.5,73.9 279.9,75.5 280.4,77.2 280.8,78.9 281.3,80.6 281.7,82.4 282.2,84.1 282.6,85.9 283.1,87.6 283.5,89.4 284.0,91.1 284.4,92.9 284.9,94.6 285.3,96.4 285.8,98.1 286.2,99.8 286.7,101.5 287.1,103.2 287.6,104.9 288.0,106.5 288.5,108.1 288.9,109.7 289.4,111.3 289.9,112.8 290.3,114.3 290.8,115.7 291.2,117.1 291.7,118.5 292.1,119.8 292.6,121.1 293.0,122.3 293.5,123.5 293.9,124.6 294.4,125.6 294.8,126.6 295.3,127.6 295.7,128.5 296.2,129.3 296.6,130.1 297.1,130.8 297.5,131.4 298.0,132.0 298.4,132.5 298.9,133.0 299.3,133.3 299.8,133.6 300.2,133.9 300.7,134.1 301.1,134.2 301.6,134.2 302.1,134.2 302.5,134.1 303.0,133.9 303.4,133.6 303.9,133.3 304.3,133.0 304.8,132.5 305.2,132.0 305.7,131.4 306.1,130.8 306.6,130.1 307.0,129.3 307.5,128.5 307.9,127.6 308.4,126.6 308.8,125.6 309.3,124.6 309.7,123.5 310.2,122.3 310.6,121.1 311.1,119.8 311.5,118.5 312.0,117.1 312.4,115.7 312.9,114.3 313.3,112.8 313.8,111.3 314.3,109.7 314.7,108.1 315.2,106.5 315.6,104.9 316.1,103.2 316.5,101.5 317.0,99.8 317.4,98.1 317.9,96.4 318.3,94.6 318.8,92.9 319.2,91.1 319.7,89.4 320.1,87.6 320.6,85.9 321.0,84.1 321.5,82.4 321.9,80.6 322.4,78.9 322.8,77.2 323.3,75.5 323.7,73.9 324.2,72.2 324.6,70.6 325.1,69.0 325.5,67.5 326.0,65.9 326.5,64.5 326.9,63.0 327.4,61.6 327.8,60.3 328.3,58.9 328.7,57.7 329.2,56.5 329.6,55.3 330.1,54.2 330.5,53.1 331.0,52.1 331.4,51.1 331.9,50.3 332.3,49.4 332.8,48.7 333.2,48.0 333.7,47.3 334.1,46.7 334.6,46.2 335.0,45.8 335.5,45.4 335.9,45.1 336.4,44.9 336.8,44.7 337.3,44.6 337.8,44.5 338.2,44.6 338.7,44.7 339.1,44.9 339.6,45.1 340.0,45.4 340.5,45.8 340.9,46.2 341.4,46.7 341.8,47.3 342.3,48.0 342.7,48.7 343.2,49.4 343.6,50.3 344.1,51.1 344.5,52.1 345.0,53.1 345.4,54.2 345.9,55.3 346.3,56.5 346.8,57.7 347.2,58.9 347.7,60.3 348.1,61.6 348.6,63.0 349.0,64.5 349.5,65.9 350.0,67.5 350.4,69.0 350.9,70.6 351.3,72.2 351.8,73.9 352.2,75.5 352.7,77.2 353.1,78.9 353.6,80.6 354.0,82.4 354.5,84.1 354.9,85.9 355.4,87.6 355.8,89.4 356.3,91.1 356.7,92.9 357.2,94.6 357.6,96.4 358.1,98.1 358.5,99.8 359.0,101.5 359.4,103.2 359.9,104.9 360.3,106.5 360.8,108.1 361.2,109.7 361.7,111.3 362.2,112.8 362.6,114.3 363.1,115.7 363.5,117.1 364.0,118.5 364.4,119.8 364.9,121.1 365.3,122.3 365.8,123.5 366.2,124.6 366.7,125.6 367.1,126.6 367.6,127.6 368.0,128.5 368.5,129.3 368.9,130.1 369.4,130.8 369.8,131.4 370.3,132.0 370.7,132.5 371.2,133.0 371.6,133.3 372.1,133.6 372.5,133.9 373.0,134.1 373.4,134.2 373.9,134.2" fill="none" stroke="#ec1c24" stroke-width="1.6" />
<rect x="271.5" y="28.6" width="53.5" height="10.2" fill="#fff"/>
<line x1="274.00" y1="34.50" x2="285.00" y2="34.50" stroke="#ec1c24" stroke-width="1.6" />
<text x="287.00" y="38.00" font-size="11.5" text-anchor="start" fill="#000" textLength="35.20" lengthAdjust="spacingAndGlyphs" stroke="#000" stroke-width="0.25" >Tunnel</text>
<rect x="229.30" y="26.80" width="144.60" height="107.40" fill="none" stroke="#000" stroke-width="1.6"/>
<line x1="223.80" y1="134.20" x2="229.30" y2="134.20" stroke="#000" stroke-width="1.3" />
<text x="222.50" y="138.20" font-size="11.5" text-anchor="end" fill="#000" stroke="#000" stroke-width="0.25" >0</text>
<line x1="226.30" y1="122.99" x2="229.30" y2="122.99" stroke="#000" stroke-width="1.3" />
<line x1="223.80" y1="111.78" x2="229.30" y2="111.78" stroke="#000" stroke-width="1.3" />
<text x="222.50" y="115.78" font-size="11.5" text-anchor="end" fill="#000" stroke="#000" stroke-width="0.25" >5</text>
<line x1="226.30" y1="100.58" x2="229.30" y2="100.58" stroke="#000" stroke-width="1.3" />
<line x1="223.80" y1="89.37" x2="229.30" y2="89.37" stroke="#000" stroke-width="1.3" />
<text x="222.50" y="93.37" font-size="11.5" text-anchor="end" fill="#000" stroke="#000" stroke-width="0.25" >10</text>
<line x1="226.30" y1="78.16" x2="229.30" y2="78.16" stroke="#000" stroke-width="1.3" />
<line x1="223.80" y1="66.95" x2="229.30" y2="66.95" stroke="#000" stroke-width="1.3" />
<text x="222.50" y="70.95" font-size="11.5" text-anchor="end" fill="#000" stroke="#000" stroke-width="0.25" >15</text>
<line x1="226.30" y1="55.75" x2="229.30" y2="55.75" stroke="#000" stroke-width="1.3" />
<line x1="223.80" y1="44.54" x2="229.30" y2="44.54" stroke="#000" stroke-width="1.3" />
<text x="222.50" y="48.54" font-size="11.5" text-anchor="end" fill="#000" stroke="#000" stroke-width="0.25" >20</text>
<line x1="226.30" y1="33.33" x2="229.30" y2="33.33" stroke="#000" stroke-width="1.3" />
<line x1="229.30" y1="22.30" x2="229.30" y2="26.80" stroke="#000" stroke-width="1.3" />
<text x="229.30" y="19.90" font-size="11.5" text-anchor="middle" fill="#000" stroke="#000" stroke-width="0.25" >-1</text>
<line x1="301.60" y1="22.30" x2="301.60" y2="26.80" stroke="#000" stroke-width="1.3" />
<text x="301.60" y="19.90" font-size="11.5" text-anchor="middle" fill="#000" stroke="#000" stroke-width="0.25" >0</text>
<line x1="373.90" y1="22.30" x2="373.90" y2="26.80" stroke="#000" stroke-width="1.3" />
<text x="373.90" y="19.90" font-size="11.5" text-anchor="middle" fill="#000" stroke="#000" stroke-width="0.25" >1</text>
<text x="297.2" y="6.6" font-size="11" font-style="italic" fill="#000" stroke="#000" stroke-width="0.2">n<tspan font-size="9" font-style="normal" dy="3.1">g</tspan></text>
<text transform="translate(206.2,80.1) rotate(-90)" font-size="12" text-anchor="middle" fill="#000" stroke="#000" stroke-width="0.25" textLength="42.5" lengthAdjust="spacingAndGlyphs"><tspan font-style="italic">U</tspan> (GHz)</text>
<path d="M229.3,242.4 230.2,242.4 231.1,242.4 232.0,242.4 232.9,242.4 233.8,242.4 234.7,242.4 235.6,242.4 236.5,242.4 237.4,242.4 238.3,242.4 239.2,242.4 240.1,242.4 241.0,242.4 242.0,242.4 242.9,242.4 243.8,242.4 244.7,242.4 245.6,242.4 246.5,242.4 247.4,242.4 248.3,242.4 249.2,242.4 250.1,242.4 251.0,242.4 251.9,242.4 252.8,242.4 253.7,242.4 254.6,242.4 255.5,242.4 256.4,242.4 257.3,242.4 258.2,242.4 259.1,242.4 260.0,242.4 260.9,242.4 261.8,242.4 262.7,242.4 263.6,242.4 264.5,242.4 265.5,242.4 266.4,242.4 267.3,242.4 268.2,242.4 269.1,242.4 270.0,242.4 270.9,242.4 271.8,242.4 272.7,242.4 273.6,242.4 274.5,242.4 275.4,242.4 276.3,242.4 277.2,242.4 278.1,242.4 279.0,242.4 279.9,242.4 280.8,242.4 281.7,242.4 282.6,242.4 283.5,242.4 284.4,242.4 285.3,242.4 286.2,242.4 287.1,242.4 288.0,242.4 288.9,242.4 289.9,242.4 290.8,242.4 291.7,242.4 292.6,242.4 293.5,242.4 294.4,242.4 295.3,242.4 296.2,242.4 297.1,242.4 298.0,242.4 298.9,242.4 299.8,242.4 300.7,242.4 301.6,242.4 302.5,242.4 303.4,242.4 304.3,242.4 305.2,242.4 306.1,242.4 307.0,242.4 307.9,242.4 308.8,242.4 309.7,242.4 310.6,242.4 311.5,242.4 312.4,242.4 313.3,242.4 314.3,242.4 315.2,242.4 316.1,242.4 317.0,242.4 317.9,242.4 318.8,242.4 319.7,242.4 320.6,242.4 321.5,242.4 322.4,242.4 323.3,242.4 324.2,242.4 325.1,242.4 326.0,242.4 326.9,242.4 327.8,242.4 328.7,242.4 329.6,242.4 330.5,242.4 331.4,242.4 332.3,242.4 333.2,242.4 334.1,242.4 335.0,242.4 335.9,242.4 336.8,242.4 337.8,242.4 338.7,242.4 339.6,242.4 340.5,242.4 341.4,242.4 342.3,242.4 343.2,242.4 344.1,242.4 345.0,242.4 345.9,242.4 346.8,242.4 347.7,242.4 348.6,242.4 349.5,242.4 350.4,242.4 351.3,242.4 352.2,242.4 353.1,242.4 354.0,242.4 354.9,242.4 355.8,242.4 356.7,242.4 357.6,242.4 358.5,242.4 359.4,242.4 360.3,242.4 361.2,242.4 362.2,242.4 363.1,242.4 364.0,242.4 364.9,242.4 365.8,242.4 366.7,242.4 367.6,242.4 368.5,242.4 369.4,242.4 370.3,242.4 371.2,242.4 372.1,242.4 373.0,242.4 373.9,242.4" fill="none" stroke="#000" stroke-width="1.5" stroke-dasharray="3.8,2.4" />
<path d="M229.3,236.0 230.2,236.0 231.1,236.0 232.0,236.0 232.9,236.0 233.8,236.0 234.7,236.0 235.6,236.0 236.5,236.0 237.4,236.0 238.3,236.0 239.2,236.0 240.1,236.0 241.0,236.0 242.0,236.0 242.9,236.0 243.8,236.0 244.7,236.0 245.6,236.0 246.5,236.0 247.4,236.0 248.3,236.0 249.2,236.0 250.1,236.0 251.0,236.0 251.9,236.0 252.8,236.0 253.7,236.0 254.6,236.0 255.5,236.0 256.4,236.0 257.3,236.0 258.2,236.0 259.1,236.0 260.0,236.0 260.9,236.0 261.8,236.0 262.7,236.0 263.6,236.0 264.5,236.0 265.5,236.0 266.4,236.0 267.3,236.0 268.2,236.0 269.1,236.0 270.0,236.0 270.9,236.0 271.8,236.0 272.7,236.0 273.6,236.0 274.5,236.0 275.4,236.0 276.3,236.0 277.2,236.0 278.1,236.0 279.0,236.0 279.9,236.0 280.8,236.0 281.7,236.0 282.6,236.0 283.5,236.0 284.4,236.0 285.3,236.0 286.2,236.0 287.1,236.0 288.0,236.0 288.9,236.0 289.9,236.0 290.8,236.0 291.7,236.0 292.6,236.0 293.5,236.0 294.4,236.0 295.3,236.0 296.2,236.0 297.1,236.0 298.0,236.0 298.9,236.0 299.8,236.0 300.7,236.0 301.6,236.0 302.5,236.0 303.4,236.0 304.3,236.0 305.2,236.0 306.1,236.0 307.0,236.0 307.9,236.0 308.8,236.0 309.7,236.0 310.6,236.0 311.5,236.0 312.4,236.0 313.3,236.0 314.3,236.0 315.2,236.0 316.1,236.0 317.0,236.0 317.9,236.0 318.8,236.0 319.7,236.0 320.6,236.0 321.5,236.0 322.4,236.0 323.3,236.0 324.2,236.0 325.1,236.0 326.0,236.0 326.9,236.0 327.8,236.0 328.7,236.0 329.6,236.0 330.5,236.0 331.4,236.0 332.3,236.0 333.2,236.0 334.1,236.0 335.0,236.0 335.9,236.0 336.8,236.0 337.8,236.0 338.7,236.0 339.6,236.0 340.5,236.0 341.4,236.0 342.3,236.0 343.2,236.0 344.1,236.0 345.0,236.0 345.9,236.0 346.8,236.0 347.7,236.0 348.6,236.0 349.5,236.0 350.4,236.0 351.3,236.0 352.2,236.0 353.1,236.0 354.0,236.0 354.9,236.0 355.8,236.0 356.7,236.0 357.6,236.0 358.5,236.0 359.4,236.0 360.3,236.0 361.2,236.0 362.2,236.0 363.1,236.0 364.0,236.0 364.9,236.0 365.8,236.0 366.7,236.0 367.6,236.0 368.5,236.0 369.4,236.0 370.3,236.0 371.2,236.0 372.1,236.0 373.0,236.0 373.9,236.0" fill="none" stroke="#000" stroke-width="1.5" stroke-dasharray="3.8,2.4" />
<path d="M229.3,223.5 230.2,223.5 231.1,223.5 232.0,223.5 232.9,223.5 233.8,223.5 234.7,223.5 235.6,223.5 236.5,223.5 237.4,223.5 238.3,223.5 239.2,223.5 240.1,223.5 241.0,223.5 242.0,223.5 242.9,223.5 243.8,223.5 244.7,223.5 245.6,223.5 246.5,223.5 247.4,223.5 248.3,223.5 249.2,223.5 250.1,223.5 251.0,223.5 251.9,223.5 252.8,223.5 253.7,223.5 254.6,223.5 255.5,223.5 256.4,223.5 257.3,223.5 258.2,223.5 259.1,223.5 260.0,223.5 260.9,223.5 261.8,223.5 262.7,223.5 263.6,223.5 264.5,223.5 265.5,223.5 266.4,223.5 267.3,223.5 268.2,223.5 269.1,223.5 270.0,223.5 270.9,223.5 271.8,223.5 272.7,223.5 273.6,223.5 274.5,223.5 275.4,223.5 276.3,223.5 277.2,223.5 278.1,223.5 279.0,223.5 279.9,223.5 280.8,223.5 281.7,223.5 282.6,223.5 283.5,223.5 284.4,223.5 285.3,223.5 286.2,223.5 287.1,223.5 288.0,223.5 288.9,223.5 289.9,223.5 290.8,223.5 291.7,223.5 292.6,223.5 293.5,223.5 294.4,223.5 295.3,223.5 296.2,223.5 297.1,223.5 298.0,223.5 298.9,223.5 299.8,223.5 300.7,223.5 301.6,223.5 302.5,223.5 303.4,223.5 304.3,223.5 305.2,223.5 306.1,223.5 307.0,223.5 307.9,223.5 308.8,223.5 309.7,223.5 310.6,223.5 311.5,223.5 312.4,223.5 313.3,223.5 314.3,223.5 315.2,223.5 316.1,223.5 317.0,223.5 317.9,223.5 318.8,223.5 319.7,223.5 320.6,223.5 321.5,223.5 322.4,223.5 323.3,223.5 324.2,223.5 325.1,223.5 326.0,223.5 326.9,223.5 327.8,223.5 328.7,223.5 329.6,223.5 330.5,223.5 331.4,223.5 332.3,223.5 333.2,223.5 334.1,223.5 335.0,223.5 335.9,223.5 336.8,223.5 337.8,223.5 338.7,223.5 339.6,223.5 340.5,223.5 341.4,223.5 342.3,223.5 343.2,223.5 344.1,223.5 345.0,223.5 345.9,223.5 346.8,223.5 347.7,223.5 348.6,223.5 349.5,223.5 350.4,223.5 351.3,223.5 352.2,223.5 353.1,223.5 354.0,223.5 354.9,223.5 355.8,223.5 356.7,223.5 357.6,223.5 358.5,223.5 359.4,223.5 360.3,223.5 361.2,223.5 362.2,223.5 363.1,223.5 364.0,223.5 364.9,223.5 365.8,223.5 366.7,223.5 367.6,223.5 368.5,223.5 369.4,223.5 370.3,223.5 371.2,223.5 372.1,223.5 373.0,223.5 373.9,223.5" fill="none" stroke="#000" stroke-width="1.5" stroke-dasharray="3.8,2.4" />
<path d="M229.3,210.7 230.2,210.7 231.1,210.7 232.0,210.7 232.9,210.7 233.8,210.7 234.7,210.7 235.6,210.7 236.5,210.7 237.4,210.7 238.3,210.7 239.2,210.7 240.1,210.7 241.0,210.7 242.0,210.7 242.9,210.7 243.8,210.7 244.7,210.7 245.6,210.7 246.5,210.7 247.4,210.7 248.3,210.7 249.2,210.7 250.1,210.7 251.0,210.7 251.9,210.7 252.8,210.7 253.7,210.7 254.6,210.7 255.5,210.7 256.4,210.7 257.3,210.7 258.2,210.7 259.1,210.7 260.0,210.7 260.9,210.7 261.8,210.7 262.7,210.7 263.6,210.7 264.5,210.7 265.5,210.7 266.4,210.7 267.3,210.7 268.2,210.7 269.1,210.7 270.0,210.7 270.9,210.7 271.8,210.7 272.7,210.7 273.6,210.7 274.5,210.7 275.4,210.7 276.3,210.7 277.2,210.7 278.1,210.7 279.0,210.7 279.9,210.7 280.8,210.7 281.7,210.7 282.6,210.7 283.5,210.7 284.4,210.7 285.3,210.7 286.2,210.7 287.1,210.7 288.0,210.7 288.9,210.7 289.9,210.7 290.8,210.7 291.7,210.7 292.6,210.7 293.5,210.7 294.4,210.7 295.3,210.7 296.2,210.7 297.1,210.7 298.0,210.7 298.9,210.7 299.8,210.7 300.7,210.7 301.6,210.7 302.5,210.7 303.4,210.7 304.3,210.7 305.2,210.7 306.1,210.7 307.0,210.7 307.9,210.7 308.8,210.7 309.7,210.7 310.6,210.7 311.5,210.7 312.4,210.7 313.3,210.7 314.3,210.7 315.2,210.7 316.1,210.7 317.0,210.7 317.9,210.7 318.8,210.7 319.7,210.7 320.6,210.7 321.5,210.7 322.4,210.7 323.3,210.7 324.2,210.7 325.1,210.7 326.0,210.7 326.9,210.7 327.8,210.7 328.7,210.7 329.6,210.7 330.5,210.7 331.4,210.7 332.3,210.7 333.2,210.7 334.1,210.7 335.0,210.7 335.9,210.7 336.8,210.7 337.8,210.7 338.7,210.7 339.6,210.7 340.5,210.7 341.4,210.7 342.3,210.7 343.2,210.7 344.1,210.7 345.0,210.7 345.9,210.7 346.8,210.7 347.7,210.7 348.6,210.7 349.5,210.7 350.4,210.7 351.3,210.7 352.2,210.7 353.1,210.7 354.0,210.7 354.9,210.7 355.8,210.7 356.7,210.7 357.6,210.7 358.5,210.7 359.4,210.7 360.3,210.7 361.2,210.7 362.2,210.7 363.1,210.7 364.0,210.7 364.9,210.7 365.8,210.7 366.7,210.7 367.6,210.7 368.5,210.7 369.4,210.7 370.3,210.7 371.2,210.7 372.1,210.7 373.0,210.7 373.9,210.7" fill="none" stroke="#000" stroke-width="1.5" stroke-dasharray="3.8,2.4" />
<path d="M229.3,197.0 230.2,197.0 231.1,197.0 232.0,197.0 232.9,197.0 233.8,197.0 234.7,197.0 235.6,197.0 236.5,197.0 237.4,197.0 238.3,197.0 239.2,197.0 240.1,197.0 241.0,197.0 242.0,197.0 242.9,197.0 243.8,197.0 244.7,197.0 245.6,197.0 246.5,197.0 247.4,197.0 248.3,197.0 249.2,197.0 250.1,197.0 251.0,197.0 251.9,197.0 252.8,197.0 253.7,197.0 254.6,197.0 255.5,197.0 256.4,197.0 257.3,197.0 258.2,197.0 259.1,197.0 260.0,197.0 260.9,197.0 261.8,197.0 262.7,197.0 263.6,197.0 264.5,197.0 265.5,197.0 266.4,197.0 267.3,197.0 268.2,197.0 269.1,197.0 270.0,197.0 270.9,197.0 271.8,197.0 272.7,197.0 273.6,197.0 274.5,197.0 275.4,197.0 276.3,197.0 277.2,197.0 278.1,197.0 279.0,197.0 279.9,197.0 280.8,197.0 281.7,197.0 282.6,197.0 283.5,197.0 284.4,197.0 285.3,197.0 286.2,197.0 287.1,197.0 288.0,197.0 288.9,197.0 289.9,197.0 290.8,197.0 291.7,197.0 292.6,197.0 293.5,197.0 294.4,197.0 295.3,197.0 296.2,197.0 297.1,197.0 298.0,197.0 298.9,197.0 299.8,197.0 300.7,197.0 301.6,197.0 302.5,197.0 303.4,197.0 304.3,197.0 305.2,197.0 306.1,197.0 307.0,197.0 307.9,197.0 308.8,197.0 309.7,197.0 310.6,197.0 311.5,197.0 312.4,197.0 313.3,197.0 314.3,197.0 315.2,197.0 316.1,197.0 317.0,197.0 317.9,197.0 318.8,197.0 319.7,197.0 320.6,197.0 321.5,197.0 322.4,197.0 323.3,197.0 324.2,197.0 325.1,197.0 326.0,197.0 326.9,197.0 327.8,197.0 328.7,197.0 329.6,197.0 330.5,197.0 331.4,197.0 332.3,197.0 333.2,197.0 334.1,197.0 335.0,197.0 335.9,197.0 336.8,197.0 337.8,197.0 338.7,197.0 339.6,197.0 340.5,197.0 341.4,197.0 342.3,197.0 343.2,197.0 344.1,197.0 345.0,197.0 345.9,197.0 346.8,197.0 347.7,197.0 348.6,197.0 349.5,197.0 350.4,197.0 351.3,197.0 352.2,197.0 353.1,197.0 354.0,197.0 354.9,197.0 355.8,197.0 356.7,197.0 357.6,197.0 358.5,197.0 359.4,197.0 360.3,197.0 361.2,197.0 362.2,197.0 363.1,197.0 364.0,197.0 364.9,197.0 365.8,197.0 366.7,197.0 367.6,197.0 368.5,197.0 369.4,197.0 370.3,197.0 371.2,197.0 372.1,197.0 373.0,197.0 373.9,197.0" fill="none" stroke="#000" stroke-width="1.5" stroke-dasharray="3.8,2.4" />
<path d="M229.3,182.9 230.2,182.9 231.1,182.9 232.0,182.9 232.9,182.9 233.8,182.9 234.7,182.9 235.6,182.9 236.5,183.0 237.4,183.0 238.3,183.0 239.2,183.0 240.1,183.0 241.0,183.0 242.0,183.0 242.9,183.0 243.8,183.0 244.7,183.1 245.6,183.1 246.5,183.1 247.4,183.1 248.3,183.1 249.2,183.1 250.1,183.1 251.0,183.1 251.9,183.2 252.8,183.2 253.7,183.2 254.6,183.2 255.5,183.2 256.4,183.2 257.3,183.2 258.2,183.2 259.1,183.2 260.0,183.2 260.9,183.2 261.8,183.3 262.7,183.3 263.6,183.3 264.5,183.3 265.5,183.3 266.4,183.3 267.3,183.3 268.2,183.3 269.1,183.3 270.0,183.2 270.9,183.2 271.8,183.2 272.7,183.2 273.6,183.2 274.5,183.2 275.4,183.2 276.3,183.2 277.2,183.2 278.1,183.2 279.0,183.2 279.9,183.1 280.8,183.1 281.7,183.1 282.6,183.1 283.5,183.1 284.4,183.1 285.3,183.1 286.2,183.1 287.1,183.0 288.0,183.0 288.9,183.0 289.9,183.0 290.8,183.0 291.7,183.0 292.6,183.0 293.5,183.0 294.4,183.0 295.3,182.9 296.2,182.9 297.1,182.9 298.0,182.9 298.9,182.9 299.8,182.9 300.7,182.9 301.6,182.9 302.5,182.9 303.4,182.9 304.3,182.9 305.2,182.9 306.1,182.9 307.0,182.9 307.9,182.9 308.8,183.0 309.7,183.0 310.6,183.0 311.5,183.0 312.4,183.0 313.3,183.0 314.3,183.0 315.2,183.0 316.1,183.0 317.0,183.1 317.9,183.1 318.8,183.1 319.7,183.1 320.6,183.1 321.5,183.1 322.4,183.1 323.3,183.1 324.2,183.2 325.1,183.2 326.0,183.2 326.9,183.2 327.8,183.2 328.7,183.2 329.6,183.2 330.5,183.2 331.4,183.2 332.3,183.2 333.2,183.2 334.1,183.3 335.0,183.3 335.9,183.3 336.8,183.3 337.8,183.3 338.7,183.3 339.6,183.3 340.5,183.3 341.4,183.3 342.3,183.2 343.2,183.2 344.1,183.2 345.0,183.2 345.9,183.2 346.8,183.2 347.7,183.2 348.6,183.2 349.5,183.2 350.4,183.2 351.3,183.2 352.2,183.1 353.1,183.1 354.0,183.1 354.9,183.1 355.8,183.1 356.7,183.1 357.6,183.1 358.5,183.1 359.4,183.0 360.3,183.0 361.2,183.0 362.2,183.0 363.1,183.0 364.0,183.0 364.9,183.0 365.8,183.0 366.7,183.0 367.6,182.9 368.5,182.9 369.4,182.9 370.3,182.9 371.2,182.9 372.1,182.9 373.0,182.9 373.9,182.9" fill="none" stroke="#000" stroke-width="1.5" stroke-dasharray="3.8,2.4" />
<path d="M229.3,170.2 230.2,170.2 231.1,170.2 232.0,170.2 232.9,170.2 233.8,170.2 234.7,170.2 235.6,170.1 236.5,170.1 237.4,170.1 238.3,170.0 239.2,170.0 240.1,170.0 241.0,169.9 242.0,169.9 242.9,169.8 243.8,169.8 244.7,169.7 245.6,169.7 246.5,169.6 247.4,169.6 248.3,169.5 249.2,169.4 250.1,169.4 251.0,169.3 251.9,169.3 252.8,169.2 253.7,169.2 254.6,169.1 255.5,169.1 256.4,169.0 257.3,169.0 258.2,168.9 259.1,168.9 260.0,168.9 260.9,168.8 261.8,168.8 262.7,168.8 263.6,168.8 264.5,168.8 265.5,168.8 266.4,168.8 267.3,168.8 268.2,168.8 269.1,168.8 270.0,168.8 270.9,168.9 271.8,168.9 272.7,168.9 273.6,169.0 274.5,169.0 275.4,169.1 276.3,169.1 277.2,169.2 278.1,169.2 279.0,169.3 279.9,169.3 280.8,169.4 281.7,169.4 282.6,169.5 283.5,169.6 284.4,169.6 285.3,169.7 286.2,169.7 287.1,169.8 288.0,169.8 288.9,169.9 289.9,169.9 290.8,170.0 291.7,170.0 292.6,170.0 293.5,170.1 294.4,170.1 295.3,170.1 296.2,170.2 297.1,170.2 298.0,170.2 298.9,170.2 299.8,170.2 300.7,170.2 301.6,170.2 302.5,170.2 303.4,170.2 304.3,170.2 305.2,170.2 306.1,170.2 307.0,170.2 307.9,170.1 308.8,170.1 309.7,170.1 310.6,170.0 311.5,170.0 312.4,170.0 313.3,169.9 314.3,169.9 315.2,169.8 316.1,169.8 317.0,169.7 317.9,169.7 318.8,169.6 319.7,169.6 320.6,169.5 321.5,169.4 322.4,169.4 323.3,169.3 324.2,169.3 325.1,169.2 326.0,169.2 326.9,169.1 327.8,169.1 328.7,169.0 329.6,169.0 330.5,168.9 331.4,168.9 332.3,168.9 333.2,168.8 334.1,168.8 335.0,168.8 335.9,168.8 336.8,168.8 337.8,168.8 338.7,168.8 339.6,168.8 340.5,168.8 341.4,168.8 342.3,168.8 343.2,168.9 344.1,168.9 345.0,168.9 345.9,169.0 346.8,169.0 347.7,169.1 348.6,169.1 349.5,169.2 350.4,169.2 351.3,169.3 352.2,169.3 353.1,169.4 354.0,169.4 354.9,169.5 355.8,169.6 356.7,169.6 357.6,169.7 358.5,169.7 359.4,169.8 360.3,169.8 361.2,169.9 362.2,169.9 363.1,170.0 364.0,170.0 364.9,170.0 365.8,170.1 366.7,170.1 367.6,170.1 368.5,170.2 369.4,170.2 370.3,170.2 371.2,170.2 372.1,170.2 373.0,170.2 373.9,170.2" fill="none" stroke="#000" stroke-width="1.5" stroke-dasharray="3.8,2.4" />
<path d="M229.3,154.4 230.2,154.4 231.1,154.4 232.0,154.5 232.9,154.5 233.8,154.6 234.7,154.8 235.6,154.9 236.5,155.0 237.4,155.2 238.3,155.4 239.2,155.5 240.1,155.7 241.0,155.9 242.0,156.0 242.9,156.2 243.8,156.4 244.7,156.6 245.6,156.7 246.5,156.9 247.4,157.1 248.3,157.2 249.2,157.4 250.1,157.5 251.0,157.7 251.9,157.8 252.8,158.0 253.7,158.1 254.6,158.2 255.5,158.3 256.4,158.4 257.3,158.5 258.2,158.6 259.1,158.7 260.0,158.8 260.9,158.8 261.8,158.9 262.7,158.9 263.6,159.0 264.5,159.0 265.5,159.0 266.4,159.0 267.3,159.0 268.2,158.9 269.1,158.9 270.0,158.8 270.9,158.8 271.8,158.7 272.7,158.6 273.6,158.5 274.5,158.4 275.4,158.3 276.3,158.2 277.2,158.1 278.1,158.0 279.0,157.8 279.9,157.7 280.8,157.5 281.7,157.4 282.6,157.2 283.5,157.1 284.4,156.9 285.3,156.7 286.2,156.6 287.1,156.4 288.0,156.2 288.9,156.0 289.9,155.9 290.8,155.7 291.7,155.5 292.6,155.4 293.5,155.2 294.4,155.0 295.3,154.9 296.2,154.8 297.1,154.6 298.0,154.5 298.9,154.5 299.8,154.4 300.7,154.4 301.6,154.4 302.5,154.4 303.4,154.4 304.3,154.5 305.2,154.5 306.1,154.6 307.0,154.8 307.9,154.9 308.8,155.0 309.7,155.2 310.6,155.4 311.5,155.5 312.4,155.7 313.3,155.9 314.3,156.0 315.2,156.2 316.1,156.4 317.0,156.6 317.9,156.7 318.8,156.9 319.7,157.1 320.6,157.2 321.5,157.4 322.4,157.5 323.3,157.7 324.2,157.8 325.1,158.0 326.0,158.1 326.9,158.2 327.8,158.3 328.7,158.4 329.6,158.5 330.5,158.6 331.4,158.7 332.3,158.8 333.2,158.8 334.1,158.9 335.0,158.9 335.9,159.0 336.8,159.0 337.8,159.0 338.7,159.0 339.6,159.0 340.5,158.9 341.4,158.9 342.3,158.8 343.2,158.8 344.1,158.7 345.0,158.6 345.9,158.5 346.8,158.4 347.7,158.3 348.6,158.2 349.5,158.1 350.4,158.0 351.3,157.8 352.2,157.7 353.1,157.5 354.0,157.4 354.9,157.2 355.8,157.1 356.7,156.9 357.6,156.7 358.5,156.6 359.4,156.4 360.3,156.2 361.2,156.0 362.2,155.9 363.1,155.7 364.0,155.5 364.9,155.4 365.8,155.2 366.7,155.0 367.6,154.9 368.5,154.8 369.4,154.6 370.3,154.5 371.2,154.5 372.1,154.4 373.0,154.4 373.9,154.4" fill="none" stroke="#000" stroke-width="1.5" stroke-dasharray="3.8,2.4" />
<path d="M229.3,242.4 229.8,242.4 230.2,242.5 230.7,242.6 231.1,242.8 231.6,243.0 232.0,243.3 232.5,243.6 232.9,243.9 233.4,244.2 233.8,244.6 234.3,244.9 234.7,245.3 235.2,245.6 235.6,246.0 236.1,246.3 236.5,246.6 237.0,246.8 237.4,247.1 237.9,247.2 238.3,247.3 238.8,247.4 239.2,247.4 239.7,247.3 240.1,247.2 240.6,246.9 241.0,246.6 241.5,246.3 242.0,245.8 242.4,245.2 242.9,244.6 243.3,243.8 243.8,243.0 244.2,242.0 244.7,241.0 245.1,239.9 245.6,238.7 246.0,237.3 246.5,235.9 246.9,234.4 247.4,232.8 247.8,231.1 248.3,229.3 248.7,227.5 249.2,225.5 249.6,223.5 250.1,221.3 250.5,219.1 251.0,216.9 251.4,214.5 251.9,212.1 252.3,209.7 252.8,207.2 253.2,204.6 253.7,202.0 254.2,199.4 254.6,196.7 255.1,194.1 255.5,191.4 256.0,188.7 256.4,186.1 256.9,183.4 257.3,180.8 257.8,178.2 258.2,175.7 258.7,173.3 259.1,170.9 259.6,168.6 260.0,166.4 260.5,164.4 260.9,162.4 261.4,160.6 261.8,159.0 262.3,157.5 262.7,156.2 263.2,155.0 263.6,154.1 264.1,153.4 264.5,152.8 265.0,152.5 265.5,152.4 265.9,152.5 266.4,152.8 266.8,153.4 267.3,154.1 267.7,155.0 268.2,156.2 268.6,157.5 269.1,159.0 269.5,160.6 270.0,162.4 270.4,164.4 270.9,166.4 271.3,168.6 271.8,170.9 272.2,173.3 272.7,175.7 273.1,178.2 273.6,180.8 274.0,183.4 274.5,186.1 274.9,188.7 275.4,191.4 275.8,194.1 276.3,196.7 276.7,199.4 277.2,202.0 277.7,204.6 278.1,207.2 278.6,209.7 279.0,212.1 279.5,214.5 279.9,216.9 280.4,219.1 280.8,221.3 281.3,223.5 281.7,225.5 282.2,227.5 282.6,229.3 283.1,231.1 283.5,232.8 284.0,234.4 284.4,235.9 284.9,237.3 285.3,238.7 285.8,239.9 286.2,241.0 286.7,242.0 287.1,243.0 287.6,243.8 288.0,244.6 288.5,245.2 288.9,245.8 289.4,246.3 289.9,246.6 290.3,246.9 290.8,247.2 291.2,247.3 291.7,247.4 292.1,247.4 292.6,247.3 293.0,247.2 293.5,247.1 293.9,246.8 294.4,246.6 294.8,246.3 295.3,246.0 295.7,245.6 296.2,245.3 296.6,244.9 297.1,244.6 297.5,244.2 298.0,243.9 298.4,243.6 298.9,243.3 299.3,243.0 299.8,242.8 300.2,242.6 300.7,242.5 301.1,242.4 301.6,242.4 302.1,242.4 302.5,242.5 303.0,242.6 303.4,242.8 303.9,243.0 304.3,243.3 304.8,243.6 305.2,243.9 305.7,244.2 306.1,244.6 306.6,244.9 307.0,245.3 307.5,245.6 307.9,246.0 308.4,246.3 308.8,246.6 309.3,246.8 309.7,247.1 310.2,247.2 310.6,247.3 311.1,247.4 311.5,247.4 312.0,247.3 312.4,247.2 312.9,246.9 313.3,246.6 313.8,246.3 314.3,245.8 314.7,245.2 315.2,244.6 315.6,243.8 316.1,243.0 316.5,242.0 317.0,241.0 317.4,239.9 317.9,238.7 318.3,237.3 318.8,235.9 319.2,234.4 319.7,232.8 320.1,231.1 320.6,229.3 321.0,227.5 321.5,225.5 321.9,223.5 322.4,221.3 322.8,219.1 323.3,216.9 323.7,214.5 324.2,212.1 324.6,209.7 325.1,207.2 325.5,204.6 326.0,202.0 326.5,199.4 326.9,196.7 327.4,194.1 327.8,191.4 328.3,188.7 328.7,186.1 329.2,183.4 329.6,180.8 330.1,178.2 330.5,175.7 331.0,173.3 331.4,170.9 331.9,168.6 332.3,166.4 332.8,164.4 333.2,162.4 333.7,160.6 334.1,159.0 334.6,157.5 335.0,156.2 335.5,155.0 335.9,154.1 336.4,153.4 336.8,152.8 337.3,152.5 337.8,152.4 338.2,152.5 338.7,152.8 339.1,153.4 339.6,154.1 340.0,155.0 340.5,156.2 340.9,157.5 341.4,159.0 341.8,160.6 342.3,162.4 342.7,164.4 343.2,166.4 343.6,168.6 344.1,170.9 344.5,173.3 345.0,175.7 345.4,178.2 345.9,180.8 346.3,183.4 346.8,186.1 347.2,188.7 347.7,191.4 348.1,194.1 348.6,196.7 349.0,199.4 349.5,202.0 350.0,204.6 350.4,207.2 350.9,209.7 351.3,212.1 351.8,214.5 352.2,216.9 352.7,219.1 353.1,221.3 353.6,223.5 354.0,225.5 354.5,227.5 354.9,229.3 355.4,231.1 355.8,232.8 356.3,234.4 356.7,235.9 357.2,237.3 357.6,238.7 358.1,239.9 358.5,241.0 359.0,242.0 359.4,243.0 359.9,243.8 360.3,244.6 360.8,245.2 361.2,245.8 361.7,246.3 362.2,246.6 362.6,246.9 363.1,247.2 363.5,247.3 364.0,247.4 364.4,247.4 364.9,247.3 365.3,247.2 365.8,247.1 366.2,246.8 366.7,246.6 367.1,246.3 367.6,246.0 368.0,245.6 368.5,245.3 368.9,244.9 369.4,244.6 369.8,244.2 370.3,243.9 370.7,243.6 371.2,243.3 371.6,243.0 372.1,242.8 372.5,242.6 373.0,242.5 373.4,242.4 373.9,242.4" fill="none" stroke="#3b55a5" stroke-width="1.6" />
<line x1="247.50" y1="144.50" x2="258.20" y2="144.50" stroke="#3b55a5" stroke-width="1.6" />
<text x="260.8" y="148.2" font-size="11.5" fill="#000" stroke="#000" stroke-width="0.25" textLength="95.5" lengthAdjust="spacingAndGlyphs">Transparent,<tspan font-style="italic">T</tspan>=0.8</text>
<rect x="229.30" y="137.20" width="144.60" height="110.20" fill="none" stroke="#000" stroke-width="1.6"/>
<line x1="223.80" y1="247.40" x2="229.30" y2="247.40" stroke="#000" stroke-width="1.3" />
<text x="222.50" y="251.40" font-size="11.5" text-anchor="end" fill="#000" stroke="#000" stroke-width="0.25" >0</text>
<line x1="226.30" y1="236.21" x2="229.30" y2="236.21" stroke="#000" stroke-width="1.3" />
<line x1="223.80" y1="225.01" x2="229.30" y2="225.01" stroke="#000" stroke-width="1.3" />
<text x="222.50" y="229.01" font-size="11.5" text-anchor="end" fill="#000" stroke="#000" stroke-width="0.25" >5</text>
<line x1="226.30" y1="213.81" x2="229.30" y2="213.81" stroke="#000" stroke-width="1.3" />
<line x1="223.80" y1="202.62" x2="229.30" y2="202.62" stroke="#000" stroke-width="1.3" />
<text x="222.50" y="206.62" font-size="11.5" text-anchor="end" fill="#000" stroke="#000" stroke-width="0.25" >10</text>
<line x1="226.30" y1="191.43" x2="229.30" y2="191.43" stroke="#000" stroke-width="1.3" />
<line x1="223.80" y1="180.23" x2="229.30" y2="180.23" stroke="#000" stroke-width="1.3" />
<text x="222.50" y="184.23" font-size="11.5" text-anchor="end" fill="#000" stroke="#000" stroke-width="0.25" >15</text>
<line x1="226.30" y1="169.04" x2="229.30" y2="169.04" stroke="#000" stroke-width="1.3" />
<line x1="223.80" y1="157.84" x2="229.30" y2="157.84" stroke="#000" stroke-width="1.3" />
<text x="222.50" y="161.84" font-size="11.5" text-anchor="end" fill="#000" stroke="#000" stroke-width="0.25" >20</text>
<line x1="226.30" y1="146.65" x2="229.30" y2="146.65" stroke="#000" stroke-width="1.3" />
<line x1="229.30" y1="247.40" x2="229.30" y2="252.40" stroke="#000" stroke-width="1.3" />
<text x="229.30" y="262.60" font-size="11.5" text-anchor="middle" fill="#000" stroke="#000" stroke-width="0.25" >-1.0</text>
<line x1="265.45" y1="247.40" x2="265.45" y2="252.40" stroke="#000" stroke-width="1.3" />
<text x="265.45" y="262.60" font-size="11.5" text-anchor="middle" fill="#000" stroke="#000" stroke-width="0.25" >-0.5</text>
<line x1="301.60" y1="247.40" x2="301.60" y2="252.40" stroke="#000" stroke-width="1.3" />
<text x="301.60" y="262.60" font-size="11.5" text-anchor="middle" fill="#000" stroke="#000" stroke-width="0.25" >0.0</text>
<line x1="337.75" y1="247.40" x2="337.75" y2="252.40" stroke="#000" stroke-width="1.3" />
<text x="337.75" y="262.60" font-size="11.5" text-anchor="middle" fill="#000" stroke="#000" stroke-width="0.25" >0.5</text>
<line x1="373.90" y1="247.40" x2="373.90" y2="252.40" stroke="#000" stroke-width="1.3" />
<text x="373.90" y="262.60" font-size="11.5" text-anchor="middle" fill="#000" stroke="#000" stroke-width="0.25" >1.0</text>
<text x="302" y="274.5" font-size="11.5" text-anchor="middle" fill="#000" stroke="#000" stroke-width="0.25"><tspan font-style="italic">φ</tspan>/2π</text>
<text transform="translate(206.2,192.2) rotate(-90)" font-size="12" text-anchor="middle" fill="#000" stroke="#000" stroke-width="0.25" textLength="42.5" lengthAdjust="spacingAndGlyphs"><tspan font-style="italic">U</tspan> (GHz)</text>
<g stroke="#444" stroke-width="0.85" fill="none"><line x1="376.5" y1="120.5" x2="376.5" y2="128.5"/><path d="M380.5,120.2 L383.6,124.5 L380.5,128.8"/></g><text x="377.3" y="127.0" font-size="7" fill="#333">0</text>
<g stroke="#444" stroke-width="0.85" fill="none"><line x1="376.5" y1="239.5" x2="376.5" y2="247.5"/><path d="M380.5,239.2 L383.6,243.5 L380.5,247.8"/></g><text x="377.3" y="246.0" font-size="7" fill="#333">0</text>
<g stroke="#444" stroke-width="0.85" fill="none"><line x1="376.5" y1="103.5" x2="376.5" y2="111.5"/><path d="M380.5,103.2 L383.6,107.5 L380.5,111.8"/></g><text x="377.3" y="110.0" font-size="7" fill="#333">1</text>
<g stroke="#444" stroke-width="0.85" fill="none"><line x1="376.5" y1="229.2" x2="376.5" y2="237.2"/><path d="M380.5,228.9 L383.6,233.2 L380.5,237.5"/></g><text x="377.3" y="235.7" font-size="7" fill="#333">1</text>
<g stroke="#444" stroke-width="0.85" fill="none"><line x1="376.5" y1="88.2" x2="376.5" y2="96.2"/><path d="M380.5,87.9 L383.6,92.2 L380.5,96.5"/></g><text x="377.3" y="94.7" font-size="7" fill="#333">2</text>
<g stroke="#444" stroke-width="0.85" fill="none"><line x1="376.5" y1="218.2" x2="376.5" y2="226.2"/><path d="M380.5,217.9 L383.6,222.2 L380.5,226.5"/></g><text x="377.3" y="224.7" font-size="7" fill="#333">2</text>
<g stroke="#444" stroke-width="0.85" fill="none"><line x1="376.5" y1="72.8" x2="376.5" y2="80.8"/><path d="M380.5,72.5 L383.6,76.8 L380.5,81.1"/></g><text x="377.3" y="79.3" font-size="7" fill="#333">3</text>
<g stroke="#444" stroke-width="0.85" fill="none"><line x1="376.5" y1="205.9" x2="376.5" y2="213.9"/><path d="M380.5,205.6 L383.6,209.9 L380.5,214.2"/></g><text x="377.3" y="212.4" font-size="7" fill="#333">3</text>
<g stroke="#444" stroke-width="0.85" fill="none"><line x1="376.5" y1="59.3" x2="376.5" y2="67.3"/><path d="M380.5,59.0 L383.6,63.3 L380.5,67.6"/></g><text x="377.3" y="65.8" font-size="7" fill="#333">4</text>
<g stroke="#444" stroke-width="0.85" fill="none"><line x1="376.5" y1="191.8" x2="376.5" y2="199.8"/><path d="M380.5,191.5 L383.6,195.8 L380.5,200.1"/></g><text x="377.3" y="198.3" font-size="7" fill="#333">4</text>
<g stroke="#444" stroke-width="0.85" fill="none"><line x1="376.5" y1="48.0" x2="376.5" y2="56.0"/><path d="M380.5,47.7 L383.6,52.0 L380.5,56.3"/></g><text x="377.3" y="54.5" font-size="7" fill="#333">5</text>
<g stroke="#444" stroke-width="0.85" fill="none"><line x1="376.5" y1="178.0" x2="376.5" y2="186.0"/><path d="M380.5,177.7 L383.6,182.0 L380.5,186.3"/></g><text x="377.3" y="184.5" font-size="7" fill="#333">5</text>
<g stroke="#444" stroke-width="0.85" fill="none"><line x1="376.5" y1="37.2" x2="376.5" y2="45.2"/><path d="M380.5,36.9 L383.6,41.2 L380.5,45.5"/></g><text x="377.3" y="43.7" font-size="7" fill="#333">6</text>
<g stroke="#444" stroke-width="0.85" fill="none"><line x1="376.5" y1="165.4" x2="376.5" y2="173.4"/><path d="M380.5,165.1 L383.6,169.4 L380.5,173.7"/></g><text x="377.3" y="171.9" font-size="7" fill="#333">6</text>
<g stroke="#444" stroke-width="0.85" fill="none"><line x1="376.5" y1="25.7" x2="376.5" y2="33.7"/><path d="M380.5,25.4 L383.6,29.7 L380.5,34.0"/></g><text x="377.3" y="32.2" font-size="7" fill="#333">7</text>
<g stroke="#444" stroke-width="0.85" fill="none"><line x1="376.5" y1="149.7" x2="376.5" y2="157.7"/><path d="M380.5,149.4 L383.6,153.7 L380.5,158.0"/></g><text x="377.3" y="156.2" font-size="7" fill="#333">7</text>
<text transform="translate(391.3,44.6) rotate(90)" font-size="12" fill="#000" stroke="#000" stroke-width="0.08">Φ = 0.5Φ<tspan font-size="9" dy="3.5">0</tspan></text>
<text transform="translate(391.3,173.2) rotate(90)" font-size="12" fill="#000" stroke="#000" stroke-width="0.08">Φ = 0.5Φ<tspan font-size="9" dy="3.5">0</tspan></text>
<text x="410.60" y="14.00" font-size="13" text-anchor="start" fill="#000" font-weight="bold" stroke="#000" stroke-width="0.1" >d</text>
<path d="M451.7,15.6 451.8,18.9 452.0,22.2 452.1,25.2 452.2,28.1 452.4,31.0 452.5,33.7 452.7,36.3 452.8,38.8 452.9,41.0 453.1,42.4 453.2,43.7 453.3,44.9 453.5,46.1 453.6,47.2 453.7,48.4 453.9,49.4 454.0,50.4 454.1,51.4 454.3,52.4 454.4,53.3 454.5,54.2 454.7,55.1 454.8,55.9 454.9,56.7 455.1,57.5 455.2,58.2 455.3,59.0 455.5,59.7 455.6,60.4 455.7,61.0 455.9,61.7 456.0,62.3 456.1,62.9 456.3,63.5 456.4,64.1 456.6,64.6 456.7,65.2 456.8,65.7 457.0,66.2 457.1,66.7 457.2,67.2 457.4,67.7 457.5,68.2 457.6,68.6 457.8,69.0 457.9,69.5 458.0,69.9 458.2,70.3 458.3,70.7 460.5,76.0 462.7,79.7 465.0,82.2 467.2,84.0 469.4,85.2 471.6,86.0 473.8,86.5 476.1,86.8 478.3,86.9 480.5,86.9 482.7,86.7 484.9,86.5 487.2,86.1 489.4,85.8 491.6,85.3 493.8,84.9 496.1,84.4 498.3,83.9 500.5,83.3 502.7,82.8 504.9,82.2 507.2,81.6 509.4,81.0 511.6,80.4 513.8,79.8 516.0,79.2 518.3,78.6 520.5,78.0 522.7,77.4 524.9,76.8 527.1,76.2 529.4,75.6 531.6,75.0 533.8,74.4 536.0,73.8 538.2,73.2 540.5,72.6 542.7,72.0 544.9,71.5 547.1,70.9 549.3,70.3 551.6,69.8 553.8,69.2 556.0,68.7 558.2,68.1 560.5,67.6 562.7,67.1 564.9,66.5 567.1,66.0 569.3,65.5 571.6,65.0 573.8,64.5 576.0,64.0 578.2,63.5 580.4,63.0 582.7,62.5 584.9,62.0 587.1,61.6 589.3,61.1 591.5,60.6 593.8,60.2 596.0,59.7 598.2,59.3 600.4,58.8 602.6,58.4 604.9,57.9 607.1,57.5 609.3,57.1 611.5,56.6 613.7,56.2 616.0,55.8 618.2,55.4 620.4,55.0 622.6,54.6 624.9,54.2 627.1,53.8 629.3,53.4 631.5,53.0 633.7,52.6 636.0,52.2 638.2,51.9 640.4,51.5 642.6,51.1 644.8,50.7 647.1,50.4 649.3,50.0 651.5,49.7 653.7,49.3 655.9,49.0" fill="none" stroke="#ec1c24" stroke-width="1.5" stroke-dasharray="5.4,3.2" />
<path d="M451.7,15.6 451.8,18.9 452.0,22.2 452.1,25.2 452.2,28.1 452.4,31.0 452.5,33.7 452.7,36.3 452.8,38.8 452.9,41.2 453.1,43.5 453.2,45.7 453.3,47.9 453.5,50.0 453.6,52.0 453.7,54.0 453.9,55.9 454.0,57.8 454.1,59.6 454.3,61.3 454.4,63.0 454.5,64.7 454.7,66.3 454.8,67.9 454.9,69.4 455.1,70.9 455.2,72.4 455.3,73.8 455.5,75.2 455.6,76.6 455.7,77.9 455.9,79.2 456.0,80.5 456.1,81.7 456.3,82.9 456.4,84.1 456.6,85.3 456.7,86.4 456.8,87.6 457.0,88.7 457.1,89.7 457.2,90.8 457.4,91.8 457.5,92.8 457.6,93.8 457.8,94.8 457.9,95.8 458.0,96.7 458.2,97.7 458.3,98.6 460.5,111.7 462.7,122.0 465.0,130.3 467.2,137.3 469.4,143.2 471.6,148.2 473.8,152.7 476.1,156.6 478.3,160.1 480.5,163.3 482.7,166.1 484.9,168.7 487.2,171.1 489.4,173.3 491.6,175.3 493.8,177.1 496.1,178.9 498.3,180.5 500.5,182.0 502.7,183.4 504.9,184.8 507.2,186.0 509.4,187.2 511.6,188.3 513.8,189.4 516.0,190.4 518.3,191.4 520.5,192.3 522.7,193.2 524.9,194.0 527.1,194.8 529.4,195.6 531.6,196.3 533.8,197.1 536.0,197.7 538.2,198.4 540.5,199.0 542.7,199.6 544.9,200.2 547.1,200.8 549.3,201.3 551.6,201.9 553.8,202.4 556.0,202.9 558.2,203.3 560.5,203.8 562.7,204.3 564.9,204.7 567.1,205.1 569.3,205.5 571.6,205.9 573.8,206.3 576.0,206.7 578.2,207.1 580.4,207.4 582.7,207.8 584.9,208.1 587.1,208.4 589.3,208.8 591.5,209.1 593.8,209.4 596.0,209.7 598.2,210.0 600.4,210.3 602.6,210.6 604.9,210.8 607.1,211.1 609.3,211.4 611.5,211.6 613.7,211.9 616.0,212.1 618.2,212.4 620.4,212.6 622.6,212.8 624.9,213.1 627.1,213.3 629.3,213.5 631.5,213.7 633.7,213.9 636.0,214.1 638.2,214.3 640.4,214.5 642.6,214.7 644.8,214.9 647.1,215.1 649.3,215.3 651.5,215.5 653.7,215.6 655.9,215.8" fill="none" stroke="#ec1c24" stroke-width="1.5" />
<path d="M451.8,124.0 451.8,123.0 451.9,121.9 451.9,120.9 452.0,119.9 452.1,118.9 452.2,117.9 452.3,116.8 452.4,115.8 452.6,114.8 452.7,113.8 452.9,112.8 453.1,111.8 453.4,110.8 453.7,109.8 454.0,108.9 454.5,108.0 455.1,107.1 455.7,106.2 456.2,105.4 456.8,104.5 457.5,103.7 458.1,103.0 458.9,102.3 459.6,101.6 460.4,100.9 461.3,100.3 462.1,99.7 463.0,99.2 463.9,98.7 464.8,98.2 465.7,97.8 466.6,97.4 467.6,97.0 468.5,96.6 469.5,96.2 470.5,95.8 471.4,95.5 472.4,95.2 473.4,94.9 474.3,94.5 475.3,94.2 476.3,93.9 477.2,93.5 478.2,93.2 479.2,92.9 480.2,92.6 481.1,92.3 482.1,92.0 483.1,91.7 484.1,91.4 485.1,91.1 486.0,90.8 487.0,90.5 488.0,90.2 489.0,89.9 489.9,89.5 490.9,89.2 491.9,88.8 492.8,88.5 493.8,88.2 494.8,87.9 495.8,87.6 496.7,87.3 497.7,87.1 498.7,86.8 499.7,86.6 500.7,86.4 501.7,86.2 502.7,85.9 503.7,85.8 504.8,85.6 505.8,85.4 506.8,85.2 507.8,85.1 508.8,84.9 509.8,84.7 510.8,84.6 511.8,84.5 512.8,84.3 513.9,84.2 514.9,84.0 515.9,83.9 516.9,83.8 517.9,83.7 519.0,83.6 520.0,83.5 521.0,83.4 522.0,83.3 523.0,83.2 524.0,83.1 525.1,83.0 526.1,82.9 527.1,82.8 528.1,82.7 529.1,82.6 530.2,82.6 531.2,82.5 532.2,82.4 533.2,82.3 534.3,82.3 535.3,82.2 536.3,82.1 537.3,82.0 538.3,82.0 539.4,81.9 540.4,81.8 541.4,81.8 542.4,81.7 543.5,81.6 544.5,81.6 545.5,81.5 546.5,81.4 547.5,81.4 548.6,81.3 549.6,81.2 550.6,81.2 551.6,81.1 552.7,81.1 553.7,81.0 554.7,80.9 555.7,80.9 556.7,80.8 557.8,80.8 558.8,80.7 559.8,80.7 560.8,80.6 561.9,80.5 562.9,80.5 563.9,80.4 564.9,80.4 565.9,80.3 567.0,80.3 568.0,80.2 569.0,80.2 570.0,80.1 571.1,80.1 572.1,80.0 573.1,80.0 574.1,79.9 575.1,79.9 576.2,79.8 577.2,79.8 578.2,79.7 579.2,79.7 580.3,79.6 581.3,79.6 582.3,79.6 583.3,79.5 584.4,79.5 585.4,79.4 586.4,79.4 587.4,79.3 588.4,79.3 589.5,79.2 590.5,79.2 591.5,79.2 592.5,79.1 593.6,79.1 594.6,79.0 595.6,79.0 596.6,79.0 597.7,78.9 598.7,78.9 599.7,78.8 600.7,78.8 601.8,78.8 602.8,78.7 603.8,78.7 604.8,78.7 605.8,78.6 606.9,78.6 607.9,78.5 608.9,78.5 609.9,78.5 611.0,78.4 612.0,78.4 613.0,78.4 614.0,78.3 615.1,78.3 616.1,78.3 617.1,78.2 618.1,78.2 619.2,78.2 620.2,78.2 621.2,78.1 622.2,78.1 623.2,78.1 624.3,78.0 625.3,78.0 626.3,78.0 627.3,78.0 628.4,77.9 629.4,77.9 630.4,77.9 631.4,77.9 632.5,77.8 633.5,77.8 634.5,77.8 635.5,77.7 636.6,77.7 637.6,77.7 638.6,77.7 639.6,77.6 640.6,77.6 641.7,77.6 642.7,77.5 643.7,77.5 644.7,77.5 645.8,77.5 646.8,77.4 647.8,77.4 648.8,77.3 649.9,77.3 650.9,77.3 651.9,77.2 652.9,77.2 654.0,77.2 655.0,77.1 656.0,77.1" fill="none" stroke="#1a1a1a" stroke-width="1.6" />
<path d="M452.2,178.5 452.2,177.4 452.2,176.3 452.2,175.3 452.2,174.2 452.3,173.1 452.3,172.0 452.3,171.0 452.3,169.9 452.4,168.8 452.4,167.7 452.5,166.7 452.6,165.6 452.7,164.5 452.8,163.5 453.0,162.4 453.1,161.3 453.3,160.3 453.6,159.2 453.9,158.2 454.2,157.2 454.6,156.1 454.9,155.1 455.4,154.2 455.8,153.2 456.3,152.2 456.8,151.3 457.4,150.3 458.0,149.4 458.6,148.5 459.2,147.7 459.9,146.8 460.5,146.0 461.3,145.2 462.0,144.4 462.8,143.6 463.5,142.9 464.3,142.1 465.0,141.4 465.8,140.6 466.6,139.8 467.4,139.1 468.2,138.4 469.0,137.7 469.9,137.1 470.8,136.5 471.7,136.0 472.7,135.5 473.7,135.0 474.7,134.6 475.6,134.2 476.6,133.8 477.6,133.4 478.7,133.0 479.7,132.6 480.7,132.3 481.7,132.0 482.7,131.7 483.8,131.4 484.8,131.1 485.8,130.8 486.9,130.5 487.9,130.2 489.0,130.0 490.0,129.8 491.1,129.6 492.1,129.4 493.2,129.1 494.2,128.9 495.3,128.7 496.4,128.5 497.4,128.3 498.5,128.0 499.5,127.8 500.6,127.6 501.6,127.4 502.7,127.1 503.7,126.9 504.8,126.7 505.8,126.6 506.9,126.4 508.0,126.2 509.0,126.1 510.1,125.9 511.2,125.8 512.2,125.6 513.3,125.5 514.4,125.3 515.4,125.2 516.5,125.1 517.6,125.0 518.6,124.8 519.7,124.7 520.8,124.6 521.8,124.5 522.9,124.4 524.0,124.3 525.0,124.1 526.1,124.0 527.2,123.9 528.3,123.8 529.3,123.7 530.4,123.6 531.5,123.4 532.5,123.3 533.6,123.2 534.7,123.1 535.7,123.0 536.8,122.9 537.9,122.8 538.9,122.7 540.0,122.6 541.1,122.5 542.2,122.4 543.2,122.3 544.3,122.2 545.4,122.1 546.4,122.0 547.5,121.9 548.6,121.8 549.7,121.7 550.7,121.6 551.8,121.5 552.9,121.5 554.0,121.4 555.0,121.3 556.1,121.3 557.2,121.2 558.2,121.1 559.3,121.1 560.4,121.0 561.5,120.9 562.5,120.9 563.6,120.8 564.7,120.7 565.8,120.7 566.8,120.6 567.9,120.6 569.0,120.5 570.1,120.5 571.1,120.4 572.2,120.3 573.3,120.3 574.4,120.2 575.4,120.2 576.5,120.1 577.6,120.1 578.6,120.0 579.7,120.0 580.8,119.9 581.9,119.9 582.9,119.8 584.0,119.7 585.1,119.7 586.2,119.6 587.2,119.6 588.3,119.5 589.4,119.5 590.5,119.4 591.5,119.4 592.6,119.3 593.7,119.3 594.8,119.2 595.8,119.2 596.9,119.1 598.0,119.1 599.1,119.0 600.1,119.0 601.2,118.9 602.3,118.9 603.4,118.8 604.4,118.7 605.5,118.7 606.6,118.6 607.7,118.6 608.7,118.5 609.8,118.5 610.9,118.4 611.9,118.4 613.0,118.3 614.1,118.2 615.2,118.2 616.2,118.1 617.3,118.1 618.4,118.0 619.5,118.0 620.5,117.9 621.6,117.9 622.7,117.8 623.8,117.8 624.8,117.7 625.9,117.7 627.0,117.6 628.1,117.6 629.1,117.5 630.2,117.5 631.3,117.4 632.4,117.4 633.4,117.3 634.5,117.3 635.6,117.2 636.7,117.2 637.7,117.1 638.8,117.1 639.9,117.0 641.0,117.0 642.0,117.0 643.1,116.9 644.2,116.9 645.3,116.8 646.3,116.8 647.4,116.7 648.5,116.7 649.6,116.6 650.6,116.6 651.7,116.6 652.8,116.5 653.9,116.5 654.9,116.4 656.0,116.4" fill="none" stroke="#1a1a1a" stroke-width="1.6" />
<path d="M452.3,237.0 452.3,235.9 452.4,234.7 452.4,233.6 452.5,232.4 452.5,231.3 452.6,230.1 452.7,229.0 452.7,227.8 452.8,226.7 452.8,225.6 452.9,224.4 453.0,223.3 453.0,222.1 453.1,221.0 453.2,219.8 453.3,218.7 453.4,217.6 453.5,216.4 453.6,215.3 453.7,214.1 453.8,213.0 453.9,211.9 454.1,210.7 454.3,209.6 454.4,208.5 454.6,207.3 454.8,206.2 455.0,205.1 455.2,203.9 455.4,202.8 455.7,201.7 455.9,200.6 456.2,199.5 456.5,198.4 456.8,197.3 457.1,196.2 457.4,195.1 457.8,194.0 458.2,192.9 458.6,191.8 459.1,190.8 459.6,189.8 460.1,188.7 460.6,187.7 461.2,186.7 461.9,185.8 462.5,184.8 463.2,183.9 463.9,183.0 464.7,182.2 465.5,181.3 466.3,180.6 467.2,179.8 468.1,179.1 469.0,178.4 469.9,177.7 470.9,177.1 471.9,176.6 472.9,176.1 474.0,175.6 475.0,175.1 476.1,174.7 477.1,174.2 478.2,173.8 479.3,173.5 480.4,173.1 481.5,172.7 482.6,172.4 483.7,172.1 484.8,171.8 485.9,171.5 487.0,171.2 488.1,170.9 489.2,170.6 490.3,170.2 491.4,169.9 492.5,169.6 493.6,169.3 494.7,169.0 495.8,168.7 496.9,168.5 498.0,168.2 499.1,168.0 500.3,167.7 501.4,167.4 502.5,167.2 503.6,167.0 504.7,166.7 505.9,166.5 507.0,166.2 508.1,166.0 509.2,165.8 510.3,165.6 511.5,165.4 512.6,165.2 513.7,165.0 514.9,164.8 516.0,164.6 517.1,164.4 518.2,164.2 519.4,164.0 520.5,163.8 521.6,163.6 522.8,163.5 523.9,163.3 525.0,163.1 526.2,163.0 527.3,162.8 528.4,162.6 529.6,162.5 530.7,162.3 531.8,162.2 533.0,162.0 534.1,161.9 535.2,161.7 536.4,161.6 537.5,161.4 538.7,161.3 539.8,161.2 540.9,161.0 542.1,160.9 543.2,160.8 544.3,160.6 545.5,160.5 546.6,160.4 547.8,160.3 548.9,160.2 550.0,160.1 551.2,160.0 552.3,159.9 553.5,159.8 554.6,159.7 555.7,159.6 556.9,159.5 558.0,159.4 559.2,159.3 560.3,159.2 561.4,159.1 562.6,159.0 563.7,158.9 564.9,158.8 566.0,158.7 567.2,158.6 568.3,158.5 569.4,158.4 570.6,158.3 571.7,158.3 572.9,158.2 574.0,158.1 575.1,158.0 576.3,157.9 577.4,157.8 578.6,157.7 579.7,157.6 580.9,157.5 582.0,157.4 583.1,157.3 584.3,157.2 585.4,157.1 586.6,157.1 587.7,157.0 588.8,156.9 590.0,156.8 591.1,156.7 592.3,156.6 593.4,156.5 594.6,156.5 595.7,156.4 596.8,156.3 598.0,156.2 599.1,156.1 600.3,156.1 601.4,156.0 602.6,155.9 603.7,155.8 604.8,155.8 606.0,155.7 607.1,155.6 608.3,155.5 609.4,155.5 610.5,155.4 611.7,155.3 612.8,155.2 614.0,155.2 615.1,155.1 616.3,155.0 617.4,155.0 618.5,154.9 619.7,154.8 620.8,154.8 622.0,154.7 623.1,154.6 624.3,154.6 625.4,154.5 626.6,154.4 627.7,154.4 628.8,154.3 630.0,154.2 631.1,154.2 632.3,154.1 633.4,154.0 634.6,154.0 635.7,153.9 636.8,153.8 638.0,153.8 639.1,153.7 640.3,153.7 641.4,153.6 642.6,153.5 643.7,153.5 644.8,153.4 646.0,153.4 647.1,153.3 648.3,153.3 649.4,153.2 650.6,153.2 651.7,153.1 652.9,153.1 654.0,153.0" fill="none" stroke="#1a1a1a" stroke-width="1.5" stroke-dasharray="3.2,2.2" />
<path d="M458.6,236.2 458.5,235.3 458.4,234.4 458.4,233.5 458.5,232.7 458.7,231.9 459.2,231.1 459.7,230.3 460.4,229.6 461.0,228.9 461.6,228.2 462.1,227.5 462.7,226.9 463.4,226.2 464.0,225.6 464.7,225.0 465.4,224.4 466.1,223.8 466.8,223.3 467.5,222.8 468.3,222.3 469.0,221.9 469.8,221.4 470.5,220.8 471.2,220.3 471.9,219.7 472.6,219.2 473.4,218.7 474.1,218.2 474.9,217.8 475.7,217.4 476.5,217.0 477.3,216.7 478.1,216.3 478.9,215.9 479.7,215.5 480.5,215.1 481.3,214.7 482.1,214.3 482.9,213.9 483.7,213.5 484.5,213.1 485.3,212.7 486.1,212.3 486.9,211.9 487.7,211.5 488.5,211.1 489.4,210.8 490.2,210.4 491.0,210.0 491.8,209.6 492.6,209.3 493.4,209.0 494.3,208.6 495.1,208.3 495.9,208.0 496.8,207.7 497.6,207.4 498.5,207.1 499.3,206.8 500.2,206.5 501.0,206.2 501.9,206.0 502.7,205.7 503.6,205.5 504.4,205.2 505.3,205.0 506.1,204.7 507.0,204.5 507.9,204.2 508.7,204.0 509.6,203.8 510.5,203.6 511.3,203.3 512.2,203.1 513.1,202.9 513.9,202.7 514.8,202.5 515.7,202.3 516.5,202.1 517.4,201.9 518.3,201.7 519.2,201.5 520.0,201.3 520.9,201.2 521.8,201.0 522.7,200.8 523.5,200.6 524.4,200.4 525.3,200.3 526.2,200.1 527.0,199.9 527.9,199.7 528.8,199.6 529.7,199.4 530.5,199.2 531.4,199.1 532.3,198.9 533.2,198.7 534.0,198.6 534.9,198.4 535.8,198.3 536.7,198.1 537.6,198.0 538.4,197.8 539.3,197.7 540.2,197.5 541.1,197.4 542.0,197.2 542.8,197.1 543.7,196.9 544.6,196.8 545.5,196.7 546.4,196.5 547.3,196.4 548.2,196.3 549.0,196.2 549.9,196.0 550.8,195.9 551.7,195.8" fill="none" stroke="#1a1a1a" stroke-width="1.5" stroke-dasharray="3.2,2.2" />
<path d="M451.8,121.7 L454.2,125.7 L449.4,125.7 Z" fill="#1a1a1a"/>
<path d="M451.8,120.0 L454.3,124.0 L449.4,124.0 Z" fill="#1a1a1a"/>
<path d="M451.9,118.3 L454.4,122.3 L449.5,122.3 Z" fill="#1a1a1a"/>
<path d="M452.1,116.6 L454.5,120.6 L449.7,120.6 Z" fill="#1a1a1a"/>
<path d="M452.3,114.9 L454.7,118.9 L449.9,118.9 Z" fill="#1a1a1a"/>
<path d="M452.5,113.2 L454.9,117.3 L450.0,117.3 Z" fill="#1a1a1a"/>
<path d="M452.7,111.5 L455.1,115.6 L450.3,115.6 Z" fill="#1a1a1a"/>
<path d="M453.0,109.9 L455.4,113.9 L450.6,113.9 Z" fill="#1a1a1a"/>
<path d="M453.4,108.2 L455.9,112.3 L451.0,112.3 Z" fill="#1a1a1a"/>
<path d="M454.0,106.6 L456.4,110.7 L451.6,110.7 Z" fill="#1a1a1a"/>
<path d="M454.9,105.2 L457.3,109.2 L452.4,109.2 Z" fill="#1a1a1a"/>
<path d="M455.8,103.7 L458.2,107.8 L453.4,107.8 Z" fill="#1a1a1a"/>
<path d="M456.8,102.3 L459.2,106.4 L454.3,106.4 Z" fill="#1a1a1a"/>
<path d="M457.8,101.0 L460.2,105.0 L455.4,105.0 Z" fill="#1a1a1a"/>
<path d="M459.0,99.8 L461.4,103.8 L456.6,103.8 Z" fill="#1a1a1a"/>
<path d="M460.3,98.7 L462.7,102.7 L457.9,102.7 Z" fill="#1a1a1a"/>
<path d="M461.7,97.7 L464.1,101.7 L459.3,101.7 Z" fill="#1a1a1a"/>
<path d="M463.1,96.8 L465.6,100.8 L460.7,100.8 Z" fill="#1a1a1a"/>
<path d="M464.6,96.0 L467.1,100.0 L462.2,100.0 Z" fill="#1a1a1a"/>
<path d="M466.2,95.3 L468.6,99.3 L463.8,99.3 Z" fill="#1a1a1a"/>
<path d="M467.7,94.6 L470.2,98.6 L465.3,98.6 Z" fill="#1a1a1a"/>
<path d="M469.3,94.0 L471.7,98.0 L466.9,98.0 Z" fill="#1a1a1a"/>
<path d="M470.9,93.4 L473.3,97.4 L468.5,97.4 Z" fill="#1a1a1a"/>
<path d="M472.5,92.8 L474.9,96.9 L470.1,96.9 Z" fill="#1a1a1a"/>
<path d="M474.1,92.3 L476.5,96.3 L471.7,96.3 Z" fill="#1a1a1a"/>
<path d="M475.7,91.7 L478.2,95.8 L473.3,95.8 Z" fill="#1a1a1a"/>
<path d="M477.3,91.2 L479.8,95.2 L474.9,95.2 Z" fill="#1a1a1a"/>
<path d="M479.0,90.7 L481.4,94.7 L476.5,94.7 Z" fill="#1a1a1a"/>
<path d="M480.6,90.1 L483.0,94.2 L478.2,94.2 Z" fill="#1a1a1a"/>
<path d="M482.2,89.6 L484.6,93.7 L479.8,93.7 Z" fill="#1a1a1a"/>
<path d="M483.8,89.1 L486.2,93.2 L481.4,93.2 Z" fill="#1a1a1a"/>
<path d="M486.6,87.8 L489.0,91.9 L484.2,91.9 Z" fill="#1a1a1a"/>
<path d="M495.8,84.8 L498.2,88.8 L493.4,88.8 Z" fill="#1a1a1a"/>
<path d="M506.3,82.5 L508.7,86.5 L503.9,86.5 Z" fill="#1a1a1a"/>
<path d="M521.5,80.5 L523.9,84.5 L519.1,84.5 Z" fill="#1a1a1a"/>
<path d="M542.5,78.9 L544.9,82.9 L540.1,82.9 Z" fill="#1a1a1a"/>
<path d="M572.5,77.2 L574.9,81.2 L570.1,81.2 Z" fill="#1a1a1a"/>
<path d="M615.3,75.5 L617.7,79.5 L612.9,79.5 Z" fill="#1a1a1a"/>
<path d="M644.2,74.7 L646.6,78.7 L641.8,78.7 Z" fill="#1a1a1a"/>
<rect x="450.7" y="177.0" width="3.0" height="3.0" fill="#1a1a1a"/>
<rect x="450.7" y="175.5" width="3.0" height="3.0" fill="#1a1a1a"/>
<rect x="450.7" y="174.0" width="3.0" height="3.0" fill="#1a1a1a"/>
<rect x="450.7" y="172.5" width="3.0" height="3.0" fill="#1a1a1a"/>
<rect x="450.8" y="171.0" width="3.0" height="3.0" fill="#1a1a1a"/>
<rect x="450.8" y="169.5" width="3.0" height="3.0" fill="#1a1a1a"/>
<rect x="450.9" y="168.0" width="3.0" height="3.0" fill="#1a1a1a"/>
<rect x="450.9" y="166.5" width="3.0" height="3.0" fill="#1a1a1a"/>
<rect x="451.0" y="165.0" width="3.0" height="3.0" fill="#1a1a1a"/>
<rect x="451.1" y="163.5" width="3.0" height="3.0" fill="#1a1a1a"/>
<rect x="451.3" y="162.0" width="3.0" height="3.0" fill="#1a1a1a"/>
<rect x="451.5" y="160.5" width="3.0" height="3.0" fill="#1a1a1a"/>
<rect x="451.8" y="159.1" width="3.0" height="3.0" fill="#1a1a1a"/>
<rect x="452.1" y="157.6" width="3.0" height="3.0" fill="#1a1a1a"/>
<rect x="452.5" y="156.2" width="3.0" height="3.0" fill="#1a1a1a"/>
<rect x="453.0" y="154.7" width="3.0" height="3.0" fill="#1a1a1a"/>
<rect x="453.6" y="153.3" width="3.0" height="3.0" fill="#1a1a1a"/>
<rect x="454.2" y="152.0" width="3.0" height="3.0" fill="#1a1a1a"/>
<rect x="454.8" y="150.6" width="3.0" height="3.0" fill="#1a1a1a"/>
<rect x="455.6" y="149.3" width="3.0" height="3.0" fill="#1a1a1a"/>
<rect x="456.4" y="148.1" width="3.0" height="3.0" fill="#1a1a1a"/>
<rect x="457.2" y="146.8" width="3.0" height="3.0" fill="#1a1a1a"/>
<rect x="458.1" y="145.6" width="3.0" height="3.0" fill="#1a1a1a"/>
<rect x="459.1" y="144.5" width="3.0" height="3.0" fill="#1a1a1a"/>
<rect x="460.1" y="143.4" width="3.0" height="3.0" fill="#1a1a1a"/>
<rect x="461.1" y="142.3" width="3.0" height="3.0" fill="#1a1a1a"/>
<rect x="462.2" y="141.2" width="3.0" height="3.0" fill="#1a1a1a"/>
<rect x="463.3" y="140.1" width="3.0" height="3.0" fill="#1a1a1a"/>
<rect x="464.3" y="139.1" width="3.0" height="3.0" fill="#1a1a1a"/>
<rect x="465.4" y="138.0" width="3.0" height="3.0" fill="#1a1a1a"/>
<rect x="466.5" y="137.0" width="3.0" height="3.0" fill="#1a1a1a"/>
<rect x="467.7" y="136.1" width="3.0" height="3.0" fill="#1a1a1a"/>
<rect x="468.8" y="135.3" width="3.0" height="3.0" fill="#1a1a1a"/>
<rect x="473.4" y="133.0" width="3.0" height="3.0" fill="#1a1a1a"/>
<rect x="478.9" y="130.9" width="3.0" height="3.0" fill="#1a1a1a"/>
<rect x="486.2" y="128.8" width="3.0" height="3.0" fill="#1a1a1a"/>
<rect x="490.9" y="127.8" width="3.0" height="3.0" fill="#1a1a1a"/>
<rect x="496.7" y="126.6" width="3.0" height="3.0" fill="#1a1a1a"/>
<rect x="503.5" y="125.2" width="3.0" height="3.0" fill="#1a1a1a"/>
<rect x="511.6" y="124.0" width="3.0" height="3.0" fill="#1a1a1a"/>
<rect x="522.1" y="122.8" width="3.0" height="3.0" fill="#1a1a1a"/>
<rect x="534.3" y="121.5" width="3.0" height="3.0" fill="#1a1a1a"/>
<rect x="549.6" y="120.1" width="3.0" height="3.0" fill="#1a1a1a"/>
<rect x="569.5" y="118.9" width="3.0" height="3.0" fill="#1a1a1a"/>
<rect x="594.0" y="117.7" width="3.0" height="3.0" fill="#1a1a1a"/>
<rect x="625.7" y="116.1" width="3.0" height="3.0" fill="#1a1a1a"/>
<circle cx="452.3" cy="237.0" r="2.9" fill="#1a1a1a"/>
<circle cx="452.3" cy="235.7" r="2.9" fill="#1a1a1a"/>
<circle cx="452.4" cy="234.4" r="2.9" fill="#1a1a1a"/>
<circle cx="452.5" cy="233.1" r="2.9" fill="#1a1a1a"/>
<circle cx="452.5" cy="231.8" r="2.9" fill="#1a1a1a"/>
<circle cx="452.6" cy="230.5" r="2.9" fill="#1a1a1a"/>
<circle cx="452.6" cy="229.2" r="2.9" fill="#1a1a1a"/>
<circle cx="452.7" cy="227.9" r="2.9" fill="#1a1a1a"/>
<circle cx="452.8" cy="226.6" r="2.9" fill="#1a1a1a"/>
<circle cx="452.9" cy="225.3" r="2.9" fill="#1a1a1a"/>
<circle cx="452.9" cy="224.0" r="2.9" fill="#1a1a1a"/>
<circle cx="453.0" cy="222.7" r="2.9" fill="#1a1a1a"/>
<circle cx="453.1" cy="221.4" r="2.9" fill="#1a1a1a"/>
<circle cx="453.2" cy="220.1" r="2.9" fill="#1a1a1a"/>
<circle cx="453.3" cy="218.8" r="2.9" fill="#1a1a1a"/>
<circle cx="453.4" cy="217.5" r="2.9" fill="#1a1a1a"/>
<circle cx="453.5" cy="216.2" r="2.9" fill="#1a1a1a"/>
<circle cx="453.6" cy="214.9" r="2.9" fill="#1a1a1a"/>
<circle cx="453.7" cy="213.6" r="2.9" fill="#1a1a1a"/>
<circle cx="453.9" cy="212.4" r="2.9" fill="#1a1a1a"/>
<circle cx="454.1" cy="211.1" r="2.9" fill="#1a1a1a"/>
<circle cx="454.2" cy="209.8" r="2.9" fill="#1a1a1a"/>
<circle cx="454.4" cy="208.5" r="2.9" fill="#1a1a1a"/>
<circle cx="454.6" cy="207.2" r="2.9" fill="#1a1a1a"/>
<circle cx="454.8" cy="205.9" r="2.9" fill="#1a1a1a"/>
<circle cx="455.1" cy="204.6" r="2.9" fill="#1a1a1a"/>
<circle cx="455.3" cy="203.4" r="2.9" fill="#1a1a1a"/>
<circle cx="455.6" cy="202.1" r="2.9" fill="#1a1a1a"/>
<circle cx="455.9" cy="200.8" r="2.9" fill="#1a1a1a"/>
<circle cx="456.2" cy="199.6" r="2.9" fill="#1a1a1a"/>
<circle cx="456.5" cy="198.3" r="2.9" fill="#1a1a1a"/>
<circle cx="456.8" cy="197.1" r="2.9" fill="#1a1a1a"/>
<circle cx="457.2" cy="195.8" r="2.9" fill="#1a1a1a"/>
<circle cx="457.6" cy="194.6" r="2.9" fill="#1a1a1a"/>
<circle cx="458.0" cy="193.3" r="2.9" fill="#1a1a1a"/>
<circle cx="458.5" cy="192.1" r="2.9" fill="#1a1a1a"/>
<circle cx="459.0" cy="190.9" r="2.9" fill="#1a1a1a"/>
<circle cx="459.6" cy="189.8" r="2.9" fill="#1a1a1a"/>
<circle cx="460.2" cy="188.6" r="2.9" fill="#1a1a1a"/>
<circle cx="460.8" cy="187.5" r="2.9" fill="#1a1a1a"/>
<circle cx="461.5" cy="186.4" r="2.9" fill="#1a1a1a"/>
<circle cx="462.2" cy="185.3" r="2.9" fill="#1a1a1a"/>
<circle cx="463.0" cy="184.2" r="2.9" fill="#1a1a1a"/>
<circle cx="463.8" cy="183.2" r="2.9" fill="#1a1a1a"/>
<circle cx="464.6" cy="182.2" r="2.9" fill="#1a1a1a"/>
<circle cx="465.5" cy="181.3" r="2.9" fill="#1a1a1a"/>
<circle cx="466.5" cy="180.4" r="2.9" fill="#1a1a1a"/>
<circle cx="467.5" cy="179.6" r="2.9" fill="#1a1a1a"/>
<circle cx="468.5" cy="178.8" r="2.9" fill="#1a1a1a"/>
<circle cx="469.5" cy="178.0" r="2.9" fill="#1a1a1a"/>
<circle cx="470.6" cy="177.3" r="2.9" fill="#1a1a1a"/>
<circle cx="471.8" cy="176.6" r="2.9" fill="#1a1a1a"/>
<circle cx="472.9" cy="176.1" r="2.9" fill="#1a1a1a"/>
<circle cx="474.1" cy="175.5" r="2.9" fill="#1a1a1a"/>
<circle cx="475.3" cy="175.0" r="2.9" fill="#1a1a1a"/>
<circle cx="476.5" cy="174.5" r="2.9" fill="#1a1a1a"/>
<circle cx="477.7" cy="174.0" r="2.9" fill="#1a1a1a"/>
<circle cx="478.9" cy="173.6" r="2.9" fill="#1a1a1a"/>
<circle cx="480.2" cy="173.2" r="2.9" fill="#1a1a1a"/>
<circle cx="481.9" cy="172.6" r="2.8" fill="#1a1a1a"/>
<circle cx="487.7" cy="171.0" r="2.8" fill="#1a1a1a"/>
<circle cx="493.6" cy="169.3" r="2.8" fill="#1a1a1a"/>
<circle cx="501.6" cy="167.4" r="2.8" fill="#1a1a1a"/>
<circle cx="511.8" cy="165.3" r="2.8" fill="#1a1a1a"/>
<circle cx="525.3" cy="163.1" r="2.8" fill="#1a1a1a"/>
<circle cx="542.9" cy="160.8" r="2.8" fill="#1a1a1a"/>
<circle cx="567.5" cy="158.6" r="2.8" fill="#1a1a1a"/>
<circle cx="602.7" cy="155.9" r="2.8" fill="#1a1a1a"/>
<circle cx="654.0" cy="153.0" r="2.8" fill="#1a1a1a"/>
<path d="M458.6,234.5 L460.6,236.2 L458.6,237.9 L456.6,236.2 Z" fill="#1a1a1a" stroke="#1a1a1a" stroke-width="1"/>
<path d="M458.4,231.5 L460.4,233.2 L458.4,234.9 L456.4,233.2 Z" fill="#fff" stroke="#1a1a1a" stroke-width="1"/>
<path d="M461.5,226.6 L463.5,228.3 L461.5,230.0 L459.5,228.3 Z" fill="#1a1a1a" stroke="#1a1a1a" stroke-width="1"/>
<path d="M466.0,222.2 L468.0,223.9 L466.0,225.6 L464.0,223.9 Z" fill="#fff" stroke="#1a1a1a" stroke-width="1"/>
<path d="M469.7,219.7 L471.7,221.4 L469.7,223.1 L467.7,221.4 Z" fill="#fff" stroke="#1a1a1a" stroke-width="1"/>
<path d="M473.5,216.9 L475.5,218.6 L473.5,220.3 L471.5,218.6 Z" fill="#1a1a1a" stroke="#1a1a1a" stroke-width="1"/>
<path d="M478.5,214.4 L480.5,216.1 L478.5,217.8 L476.5,216.1 Z" fill="#1a1a1a" stroke="#1a1a1a" stroke-width="1"/>
<path d="M483.6,211.9 L485.6,213.6 L483.6,215.3 L481.6,213.6 Z" fill="#1a1a1a" stroke="#1a1a1a" stroke-width="1"/>
<path d="M488.0,209.7 L490.0,211.4 L488.0,213.1 L486.0,211.4 Z" fill="#1a1a1a" stroke="#1a1a1a" stroke-width="1"/>
<path d="M492.6,207.6 L494.6,209.3 L492.6,211.0 L490.6,209.3 Z" fill="#fff" stroke="#1a1a1a" stroke-width="1"/>
<path d="M504.1,203.6 L506.1,205.3 L504.1,207.0 L502.1,205.3 Z" fill="#fff" stroke="#1a1a1a" stroke-width="1"/>
<path d="M521.2,199.4 L523.2,201.1 L521.2,202.8 L519.2,201.1 Z" fill="#1a1a1a" stroke="#1a1a1a" stroke-width="1"/>
<path d="M551.7,194.1 L553.7,195.8 L551.7,197.5 L549.7,195.8 Z" fill="#fff" stroke="#1a1a1a" stroke-width="1"/>
<circle cx="478.1" cy="238.0" r="2.8" fill="#2e3192"/>
<circle cx="650.0" cy="238.0" r="2.8" fill="#ec1c24"/>
<path d="M656.0,12.6 L450.5,12.6 L450.5,242.8" fill="none" stroke="#000" stroke-width="1.4"/>
<line x1="449.80" y1="242.80" x2="656.00" y2="242.80" stroke="#000" stroke-width="1.4" />
<line x1="656.00" y1="11.90" x2="656.00" y2="242.80" stroke="#ec1c24" stroke-width="1.4" />
<line x1="446.00" y1="237.79" x2="450.50" y2="237.79" stroke="#000" stroke-width="1.3" />
<text x="434.30" y="243.99" font-size="11.5" text-anchor="end" fill="#000" stroke="#000" stroke-width="0.25" >10</text>
<text x="434.40" y="236.49" font-size="8.5" text-anchor="start" fill="#000" stroke="#000" stroke-width="0.25" >-3</text>
<line x1="446.00" y1="210.26" x2="450.50" y2="210.26" stroke="#000" stroke-width="1.3" />
<text x="434.30" y="216.46" font-size="11.5" text-anchor="end" fill="#000" stroke="#000" stroke-width="0.25" >10</text>
<text x="434.40" y="208.96" font-size="8.5" text-anchor="start" fill="#000" stroke="#000" stroke-width="0.25" >-2</text>
<line x1="446.00" y1="182.73" x2="450.50" y2="182.73" stroke="#000" stroke-width="1.3" />
<text x="434.30" y="188.93" font-size="11.5" text-anchor="end" fill="#000" stroke="#000" stroke-width="0.25" >10</text>
<text x="434.40" y="181.43" font-size="8.5" text-anchor="start" fill="#000" stroke="#000" stroke-width="0.25" >-1</text>
<line x1="446.00" y1="155.20" x2="450.50" y2="155.20" stroke="#000" stroke-width="1.3" />
<text x="434.30" y="161.40" font-size="11.5" text-anchor="end" fill="#000" stroke="#000" stroke-width="0.25" >10</text>
<text x="434.40" y="153.90" font-size="8.5" text-anchor="start" fill="#000" stroke="#000" stroke-width="0.25" >0</text>
<line x1="446.00" y1="127.67" x2="450.50" y2="127.67" stroke="#000" stroke-width="1.3" />
<text x="434.30" y="133.87" font-size="11.5" text-anchor="end" fill="#000" stroke="#000" stroke-width="0.25" >10</text>
<text x="434.40" y="126.37" font-size="8.5" text-anchor="start" fill="#000" stroke="#000" stroke-width="0.25" >1</text>
<line x1="446.00" y1="100.14" x2="450.50" y2="100.14" stroke="#000" stroke-width="1.3" />
<text x="434.30" y="106.34" font-size="11.5" text-anchor="end" fill="#000" stroke="#000" stroke-width="0.25" >10</text>
<text x="434.40" y="98.84" font-size="8.5" text-anchor="start" fill="#000" stroke="#000" stroke-width="0.25" >2</text>
<line x1="446.00" y1="72.61" x2="450.50" y2="72.61" stroke="#000" stroke-width="1.3" />
<text x="434.30" y="78.81" font-size="11.5" text-anchor="end" fill="#000" stroke="#000" stroke-width="0.25" >10</text>
<text x="434.40" y="71.31" font-size="8.5" text-anchor="start" fill="#000" stroke="#000" stroke-width="0.25" >3</text>
<line x1="446.00" y1="45.08" x2="450.50" y2="45.08" stroke="#000" stroke-width="1.3" />
<text x="434.30" y="51.28" font-size="11.5" text-anchor="end" fill="#000" stroke="#000" stroke-width="0.25" >10</text>
<text x="434.40" y="43.78" font-size="8.5" text-anchor="start" fill="#000" stroke="#000" stroke-width="0.25" >4</text>
<line x1="446.00" y1="17.55" x2="450.50" y2="17.55" stroke="#000" stroke-width="1.3" />
<text x="434.30" y="23.75" font-size="11.5" text-anchor="end" fill="#000" stroke="#000" stroke-width="0.25" >10</text>
<text x="434.40" y="16.25" font-size="8.5" text-anchor="start" fill="#000" stroke="#000" stroke-width="0.25" >5</text>
<line x1="656.00" y1="238.00" x2="660.50" y2="238.00" stroke="#ec1c24" stroke-width="1.4" />
<text x="663.40" y="242.10" font-size="11.5" text-anchor="start" fill="#ec1c24" stroke="#ec1c24" stroke-width="0.25" >0</text>
<line x1="656.00" y1="193.84" x2="660.50" y2="193.84" stroke="#ec1c24" stroke-width="1.4" />
<text x="663.40" y="197.94" font-size="11.5" text-anchor="start" fill="#ec1c24" stroke="#ec1c24" stroke-width="0.25" >1</text>
<line x1="656.00" y1="149.68" x2="660.50" y2="149.68" stroke="#ec1c24" stroke-width="1.4" />
<text x="663.40" y="153.78" font-size="11.5" text-anchor="start" fill="#ec1c24" stroke="#ec1c24" stroke-width="0.25" >2</text>
<line x1="656.00" y1="105.52" x2="660.50" y2="105.52" stroke="#ec1c24" stroke-width="1.4" />
<text x="663.40" y="109.62" font-size="11.5" text-anchor="start" fill="#ec1c24" stroke="#ec1c24" stroke-width="0.25" >3</text>
<line x1="656.00" y1="61.36" x2="660.50" y2="61.36" stroke="#ec1c24" stroke-width="1.4" />
<text x="663.40" y="65.46" font-size="11.5" text-anchor="start" fill="#ec1c24" stroke="#ec1c24" stroke-width="0.25" >4</text>
<line x1="656.00" y1="17.20" x2="660.50" y2="17.20" stroke="#ec1c24" stroke-width="1.4" />
<text x="663.40" y="21.30" font-size="11.5" text-anchor="start" fill="#ec1c24" stroke="#ec1c24" stroke-width="0.25" >5</text>
<line x1="452.90" y1="242.80" x2="452.90" y2="247.80" stroke="#000" stroke-width="1.3" />
<text x="452.90" y="261.80" font-size="11.5" text-anchor="middle" fill="#000" stroke="#000" stroke-width="0.25" >0</text>
<line x1="506.90" y1="242.80" x2="506.90" y2="247.80" stroke="#000" stroke-width="1.3" />
<text x="506.90" y="261.80" font-size="11.5" text-anchor="middle" fill="#000" stroke="#000" stroke-width="0.25" >200</text>
<line x1="560.90" y1="242.80" x2="560.90" y2="247.80" stroke="#000" stroke-width="1.3" />
<text x="560.90" y="261.80" font-size="11.5" text-anchor="middle" fill="#000" stroke="#000" stroke-width="0.25" >400</text>
<line x1="614.90" y1="242.80" x2="614.90" y2="247.80" stroke="#000" stroke-width="1.3" />
<text x="614.90" y="261.80" font-size="11.5" text-anchor="middle" fill="#000" stroke="#000" stroke-width="0.25" >600</text>
<text x="557.00" y="275.40" font-size="11.5" text-anchor="middle" fill="#000" textLength="95.60" lengthAdjust="spacingAndGlyphs" stroke="#000" stroke-width="0.25" >Anharmonicity (%)</text>
<text transform="translate(418.2,127.5) rotate(-90)" font-size="11.5" text-anchor="middle" fill="#000" stroke="#000" stroke-width="0.25" textLength="74.5" lengthAdjust="spacingAndGlyphs">Linewidth (Hz)</text>
<text transform="translate(675.5,106.3) rotate(90)" font-size="12" fill="#ec1c24" stroke="#ec1c24" stroke-width="0.25"><tspan font-style="italic">f</tspan><tspan font-size="9" dy="3.5">q</tspan><tspan dy="-3.5"> (GHz)</tspan></text>
<text x="494.3" y="28.3" font-size="12" fill="#000" stroke="#000" stroke-width="0.1"><tspan font-style="italic">I</tspan><tspan font-size="9" dy="3.8">c1</tspan><tspan dy="-3.8">/</tspan><tspan font-style="italic">I</tspan><tspan font-size="9" dy="3.8">c2</tspan></text>
<path d="M476.2,41.9 486.9,41.9" fill="none" stroke="#1a1a1a" stroke-width="1.3" stroke-dasharray="1.6,1.6" />
<path d="M482.0,40.4 L483.8,41.9 L482.0,43.4 L480.2,41.9 Z" fill="#fff" stroke="#1a1a1a" stroke-width="1"/>
<text x="489.20" y="45.70" font-size="11.5" text-anchor="start" fill="#000" stroke="#000" stroke-width="0.25" >0.4</text>
<line x1="508.80" y1="41.90" x2="518.40" y2="41.90" stroke="#1a1a1a" stroke-width="1.5" />
<ellipse cx="513.8" cy="41.9" rx="2.3" ry="1.6" fill="#1a1a1a"/>
<text x="520.70" y="45.70" font-size="11.5" text-anchor="start" fill="#000" stroke="#000" stroke-width="0.25" >0.6</text>
<path d="M476.2,56.2 486.9,56.2" fill="none" stroke="#1a1a1a" stroke-width="1.3" stroke-dasharray="1.6,1.6" />
<ellipse cx="483.4" cy="56.2" rx="3.1" ry="2.4" fill="#1a1a1a"/>
<text x="489.20" y="60.00" font-size="11.5" text-anchor="start" fill="#000" stroke="#000" stroke-width="0.25" >0.5</text>
<line x1="508.80" y1="56.20" x2="518.40" y2="56.20" stroke="#1a1a1a" stroke-width="1.5" />
<path d="M513.8,54.1 L516.0,57.8 L511.6,57.8 Z" fill="#1a1a1a"/>
<text x="520.70" y="60.00" font-size="11.5" text-anchor="start" fill="#000" stroke="#000" stroke-width="0.25" >0.7</text>
<rect x="517.2" y="212.2" width="59.2" height="27.3" fill="#fff" stroke="#333" stroke-width="1.1"/>
<circle cx="522.9" cy="220.2" r="2.8" fill="#2e3192"/>
<text x="529.20" y="224.50" font-size="11.5" text-anchor="start" fill="#000" textLength="41.60" lengthAdjust="spacingAndGlyphs" stroke="#000" stroke-width="0.25" >Device I</text>
<circle cx="522.9" cy="232.4" r="2.8" fill="#ec1c24"/>
<text x="529.20" y="236.40" font-size="11.5" text-anchor="start" fill="#000" textLength="44.60" lengthAdjust="spacingAndGlyphs" stroke="#000" stroke-width="0.25" >Device II</text>
<path d="M599.4,173.0 629.0,173.0" fill="none" stroke="#ec1c24" stroke-width="1.5" stroke-dasharray="6,4.5" />
<text x="633.6" y="176" font-size="12" fill="#ec1c24" stroke="#ec1c24" stroke-width="0.25"><tspan font-style="italic">f</tspan><tspan font-size="9.5" dy="3.8">12</tspan></text>
<line x1="600.00" y1="192.80" x2="631.00" y2="192.80" stroke="#ec1c24" stroke-width="1.5" />
<text x="633.6" y="195.6" font-size="12" fill="#ec1c24" stroke="#ec1c24" stroke-width="0.25"><tspan font-style="italic">f</tspan><tspan font-size="9.5" dy="3.8">01</tspan></text>
</svg></body></html>
